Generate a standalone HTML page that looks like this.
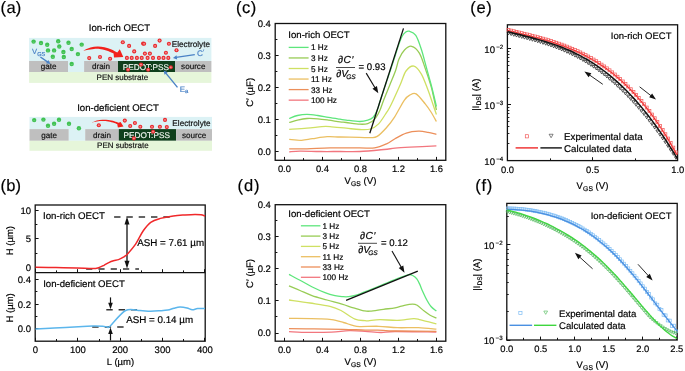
<!DOCTYPE html>
<html><head><meta charset="utf-8"><style>
html,body{margin:0;padding:0;background:#fff;overflow:hidden;}
svg{display:block;will-change:transform;}
text{font-family:"Liberation Sans", sans-serif;stroke:currentColor;stroke-width:0.18px;text-rendering:geometricPrecision;}
</style></head><body>
<svg width="685" height="371" viewBox="0 0 685 371">
<rect width="685" height="371" fill="#fff"/>
<text x="0.6" y="12.6" font-size="16.5" text-anchor="start" fill="#000" style="color:#000"  letter-spacing="0.3">(a)</text>
<text x="119.5" y="31.1" font-size="9.6" text-anchor="middle" fill="#000" style="color:#000"  >Ion-rich OECT</text>
<text x="118" y="110.8" font-size="9.6" text-anchor="middle" fill="#000" style="color:#000"  >Ion-deficient OECT</text>
<rect x="29.1" y="37.9" width="182.3" height="23.1" fill="#dcf2f5" />
<rect x="29.1" y="61" width="38.9" height="11" fill="#bfbfbf" />
<rect x="68" y="61" width="16.1" height="11" fill="#dcf2f5" />
<rect x="84.1" y="61" width="33.9" height="11" fill="#bfbfbf" />
<rect x="118" y="61" width="57.1" height="11" fill="#0f3f1c" />
<rect x="175.1" y="61" width="36.3" height="11" fill="#bfbfbf" />
<rect x="29.1" y="72" width="182.3" height="10.9" fill="#e6f6da" />
<text x="48.55" y="69.2" font-size="8.1" text-anchor="middle" fill="#111" style="color:#111"  >gate</text>
<text x="101.05" y="69.2" font-size="8.1" text-anchor="middle" fill="#111" style="color:#111"  >drain</text>
<text x="145.85" y="69.5" font-size="8.25" text-anchor="middle" fill="#eef4ee" style="color:#eef4ee"  >PEDOT:PSS</text>
<text x="193.25" y="69.2" font-size="8.1" text-anchor="middle" fill="#111" style="color:#111"  >source</text>
<text x="122.35" y="80.3" font-size="8.0" text-anchor="middle" fill="#111" style="color:#111"  >PEN substrate</text>
<text x="210" y="47" font-size="8.2" text-anchor="end" fill="#111" style="color:#111"  >Electrolyte</text>
<rect x="29.5" y="116.9" width="182.5" height="12.2" fill="#dcf2f5" />
<rect x="29.5" y="129.1" width="39.3" height="11.7" fill="#bfbfbf" />
<rect x="68.8" y="129.1" width="16.4" height="11.7" fill="#dcf2f5" />
<rect x="85.2" y="129.1" width="33.6" height="11.7" fill="#bfbfbf" />
<rect x="118.8" y="129.1" width="57.3" height="11.7" fill="#0f3f1c" />
<rect x="176.1" y="129.1" width="35.9" height="11.7" fill="#bfbfbf" />
<rect x="29.5" y="140.8" width="182.5" height="10" fill="#e6f6da" />
<text x="49.15" y="138" font-size="8.1" text-anchor="middle" fill="#111" style="color:#111"  >gate</text>
<text x="102" y="138" font-size="8.1" text-anchor="middle" fill="#111" style="color:#111"  >drain</text>
<text x="146.75" y="138.3" font-size="8.25" text-anchor="middle" fill="#eef4ee" style="color:#eef4ee"  >PEDOT:PSS</text>
<text x="194.05" y="138" font-size="8.1" text-anchor="middle" fill="#111" style="color:#111"  >source</text>
<text x="122.85" y="148.2" font-size="8.0" text-anchor="middle" fill="#111" style="color:#111"  >PEN substrate</text>
<text x="210.6" y="126" font-size="8.2" text-anchor="end" fill="#111" style="color:#111"  >Electrolyte</text>
<circle cx="33.6" cy="41.6" r="2.2" fill="#40c252"/>
<line x1="32.7" y1="42.2" x2="34.5" y2="42.2" stroke="#8ed898" stroke-width="0.5" />
<circle cx="41" cy="43" r="2.2" fill="#40c252"/>
<line x1="40.1" y1="43.6" x2="41.9" y2="43.6" stroke="#8ed898" stroke-width="0.5" />
<circle cx="47.2" cy="44.8" r="2.2" fill="#40c252"/>
<line x1="46.3" y1="45.4" x2="48.1" y2="45.4" stroke="#8ed898" stroke-width="0.5" />
<circle cx="58.2" cy="41.2" r="2.2" fill="#40c252"/>
<line x1="57.3" y1="41.8" x2="59.1" y2="41.8" stroke="#8ed898" stroke-width="0.5" />
<circle cx="59.3" cy="46.5" r="2.2" fill="#40c252"/>
<line x1="58.4" y1="47.1" x2="60.2" y2="47.1" stroke="#8ed898" stroke-width="0.5" />
<circle cx="68.5" cy="42.8" r="2.2" fill="#40c252"/>
<line x1="67.6" y1="43.4" x2="69.4" y2="43.4" stroke="#8ed898" stroke-width="0.5" />
<circle cx="81.7" cy="44.6" r="2.2" fill="#40c252"/>
<line x1="80.8" y1="45.2" x2="82.6" y2="45.2" stroke="#8ed898" stroke-width="0.5" />
<circle cx="48" cy="50.4" r="2.2" fill="#40c252"/>
<line x1="47.1" y1="51" x2="48.9" y2="51" stroke="#8ed898" stroke-width="0.5" />
<circle cx="54.1" cy="50.4" r="2.2" fill="#40c252"/>
<line x1="53.2" y1="51" x2="55" y2="51" stroke="#8ed898" stroke-width="0.5" />
<circle cx="63.4" cy="52" r="2.2" fill="#40c252"/>
<line x1="62.5" y1="52.6" x2="64.3" y2="52.6" stroke="#8ed898" stroke-width="0.5" />
<circle cx="71.7" cy="49" r="2.2" fill="#40c252"/>
<line x1="70.8" y1="49.6" x2="72.6" y2="49.6" stroke="#8ed898" stroke-width="0.5" />
<circle cx="77.9" cy="54.1" r="2.2" fill="#40c252"/>
<line x1="77" y1="54.7" x2="78.8" y2="54.7" stroke="#8ed898" stroke-width="0.5" />
<circle cx="52.8" cy="56.8" r="2.2" fill="#40c252"/>
<line x1="51.9" y1="57.4" x2="53.7" y2="57.4" stroke="#8ed898" stroke-width="0.5" />
<circle cx="63.8" cy="57" r="2.2" fill="#40c252"/>
<line x1="62.9" y1="57.6" x2="64.7" y2="57.6" stroke="#8ed898" stroke-width="0.5" />
<circle cx="71.7" cy="64" r="2.2" fill="#40c252"/>
<line x1="70.8" y1="64.6" x2="72.6" y2="64.6" stroke="#8ed898" stroke-width="0.5" />
<circle cx="89.2" cy="58.1" r="2.05" fill="#e8262a"/>
<line x1="88.15" y1="58.1" x2="90.25" y2="58.1" stroke="#ffc4c4" stroke-width="0.5" />
<line x1="89.2" y1="57.05" x2="89.2" y2="59.15" stroke="#ffc4c4" stroke-width="0.5" />
<circle cx="100" cy="57" r="2.05" fill="#e8262a"/>
<line x1="98.95" y1="57" x2="101.05" y2="57" stroke="#ffc4c4" stroke-width="0.5" />
<line x1="100" y1="55.95" x2="100" y2="58.05" stroke="#ffc4c4" stroke-width="0.5" />
<circle cx="110.1" cy="58.7" r="2.05" fill="#e8262a"/>
<line x1="109.05" y1="58.7" x2="111.15" y2="58.7" stroke="#ffc4c4" stroke-width="0.5" />
<line x1="110.1" y1="57.65" x2="110.1" y2="59.75" stroke="#ffc4c4" stroke-width="0.5" />
<circle cx="122.8" cy="42.3" r="2.05" fill="#e8262a"/>
<line x1="121.75" y1="42.3" x2="123.85" y2="42.3" stroke="#ffc4c4" stroke-width="0.5" />
<line x1="122.8" y1="41.25" x2="122.8" y2="43.35" stroke="#ffc4c4" stroke-width="0.5" />
<circle cx="129.1" cy="45.9" r="2.05" fill="#e8262a"/>
<line x1="128.05" y1="45.9" x2="130.15" y2="45.9" stroke="#ffc4c4" stroke-width="0.5" />
<line x1="129.1" y1="44.85" x2="129.1" y2="46.95" stroke="#ffc4c4" stroke-width="0.5" />
<circle cx="134.2" cy="51.4" r="2.05" fill="#e8262a"/>
<line x1="133.15" y1="51.4" x2="135.25" y2="51.4" stroke="#ffc4c4" stroke-width="0.5" />
<line x1="134.2" y1="50.35" x2="134.2" y2="52.45" stroke="#ffc4c4" stroke-width="0.5" />
<circle cx="126.9" cy="57.9" r="2.05" fill="#e8262a"/>
<line x1="125.85" y1="57.9" x2="127.95" y2="57.9" stroke="#ffc4c4" stroke-width="0.5" />
<line x1="126.9" y1="56.85" x2="126.9" y2="58.95" stroke="#ffc4c4" stroke-width="0.5" />
<circle cx="131.7" cy="57.9" r="2.05" fill="#e8262a"/>
<line x1="130.65" y1="57.9" x2="132.75" y2="57.9" stroke="#ffc4c4" stroke-width="0.5" />
<line x1="131.7" y1="56.85" x2="131.7" y2="58.95" stroke="#ffc4c4" stroke-width="0.5" />
<circle cx="136.9" cy="57.9" r="2.05" fill="#e8262a"/>
<line x1="135.85" y1="57.9" x2="137.95" y2="57.9" stroke="#ffc4c4" stroke-width="0.5" />
<line x1="136.9" y1="56.85" x2="136.9" y2="58.95" stroke="#ffc4c4" stroke-width="0.5" />
<circle cx="141.7" cy="57.9" r="2.05" fill="#e8262a"/>
<line x1="140.65" y1="57.9" x2="142.75" y2="57.9" stroke="#ffc4c4" stroke-width="0.5" />
<line x1="141.7" y1="56.85" x2="141.7" y2="58.95" stroke="#ffc4c4" stroke-width="0.5" />
<circle cx="143.1" cy="43.6" r="2.05" fill="#e8262a"/>
<line x1="142.05" y1="43.6" x2="144.15" y2="43.6" stroke="#ffc4c4" stroke-width="0.5" />
<line x1="143.1" y1="42.55" x2="143.1" y2="44.65" stroke="#ffc4c4" stroke-width="0.5" />
<circle cx="144.1" cy="43.8" r="2.05" fill="#e8262a"/>
<line x1="143.05" y1="43.8" x2="145.15" y2="43.8" stroke="#ffc4c4" stroke-width="0.5" />
<line x1="144.1" y1="42.75" x2="144.1" y2="44.85" stroke="#ffc4c4" stroke-width="0.5" />
<circle cx="155.1" cy="45.9" r="2.05" fill="#e8262a"/>
<line x1="154.05" y1="45.9" x2="156.15" y2="45.9" stroke="#ffc4c4" stroke-width="0.5" />
<line x1="155.1" y1="44.85" x2="155.1" y2="46.95" stroke="#ffc4c4" stroke-width="0.5" />
<circle cx="159.6" cy="40.6" r="2.05" fill="#e8262a"/>
<line x1="158.55" y1="40.6" x2="160.65" y2="40.6" stroke="#ffc4c4" stroke-width="0.5" />
<line x1="159.6" y1="39.55" x2="159.6" y2="41.65" stroke="#ffc4c4" stroke-width="0.5" />
<circle cx="168.9" cy="43.8" r="2.05" fill="#e8262a"/>
<line x1="167.85" y1="43.8" x2="169.95" y2="43.8" stroke="#ffc4c4" stroke-width="0.5" />
<line x1="168.9" y1="42.75" x2="168.9" y2="44.85" stroke="#ffc4c4" stroke-width="0.5" />
<circle cx="176.5" cy="50.2" r="2.05" fill="#e8262a"/>
<line x1="175.45" y1="50.2" x2="177.55" y2="50.2" stroke="#ffc4c4" stroke-width="0.5" />
<line x1="176.5" y1="49.15" x2="176.5" y2="51.25" stroke="#ffc4c4" stroke-width="0.5" />
<circle cx="144.9" cy="53.6" r="2.05" fill="#e8262a"/>
<line x1="143.85" y1="53.6" x2="145.95" y2="53.6" stroke="#ffc4c4" stroke-width="0.5" />
<line x1="144.9" y1="52.55" x2="144.9" y2="54.65" stroke="#ffc4c4" stroke-width="0.5" />
<circle cx="149.9" cy="53.6" r="2.05" fill="#e8262a"/>
<line x1="148.85" y1="53.6" x2="150.95" y2="53.6" stroke="#ffc4c4" stroke-width="0.5" />
<line x1="149.9" y1="52.55" x2="149.9" y2="54.65" stroke="#ffc4c4" stroke-width="0.5" />
<circle cx="165.9" cy="52.7" r="2.05" fill="#e8262a"/>
<line x1="164.85" y1="52.7" x2="166.95" y2="52.7" stroke="#ffc4c4" stroke-width="0.5" />
<line x1="165.9" y1="51.65" x2="165.9" y2="53.75" stroke="#ffc4c4" stroke-width="0.5" />
<circle cx="147.6" cy="57.9" r="2.05" fill="#e8262a"/>
<line x1="146.55" y1="57.9" x2="148.65" y2="57.9" stroke="#ffc4c4" stroke-width="0.5" />
<line x1="147.6" y1="56.85" x2="147.6" y2="58.95" stroke="#ffc4c4" stroke-width="0.5" />
<circle cx="153" cy="57.9" r="2.05" fill="#e8262a"/>
<line x1="151.95" y1="57.9" x2="154.05" y2="57.9" stroke="#ffc4c4" stroke-width="0.5" />
<line x1="153" y1="56.85" x2="153" y2="58.95" stroke="#ffc4c4" stroke-width="0.5" />
<circle cx="158.9" cy="57.9" r="2.05" fill="#e8262a"/>
<line x1="157.85" y1="57.9" x2="159.95" y2="57.9" stroke="#ffc4c4" stroke-width="0.5" />
<line x1="158.9" y1="56.85" x2="158.9" y2="58.95" stroke="#ffc4c4" stroke-width="0.5" />
<circle cx="163.5" cy="57.9" r="2.05" fill="#e8262a"/>
<line x1="162.45" y1="57.9" x2="164.55" y2="57.9" stroke="#ffc4c4" stroke-width="0.5" />
<line x1="163.5" y1="56.85" x2="163.5" y2="58.95" stroke="#ffc4c4" stroke-width="0.5" />
<circle cx="168.3" cy="57.9" r="2.05" fill="#e8262a"/>
<line x1="167.25" y1="57.9" x2="169.35" y2="57.9" stroke="#ffc4c4" stroke-width="0.5" />
<line x1="168.3" y1="56.85" x2="168.3" y2="58.95" stroke="#ffc4c4" stroke-width="0.5" />
<circle cx="141" cy="64.6" r="2.05" fill="#e8262a"/>
<line x1="139.95" y1="64.6" x2="142.05" y2="64.6" stroke="#ffc4c4" stroke-width="0.5" />
<line x1="141" y1="63.55" x2="141" y2="65.65" stroke="#ffc4c4" stroke-width="0.5" />
<circle cx="128" cy="69.7" r="2.05" fill="#e8262a"/>
<line x1="126.95" y1="69.7" x2="129.05" y2="69.7" stroke="#ffc4c4" stroke-width="0.5" />
<line x1="128" y1="68.65" x2="128" y2="70.75" stroke="#ffc4c4" stroke-width="0.5" />
<circle cx="148.1" cy="69.7" r="2.05" fill="#e8262a"/>
<line x1="147.05" y1="69.7" x2="149.15" y2="69.7" stroke="#ffc4c4" stroke-width="0.5" />
<line x1="148.1" y1="68.65" x2="148.1" y2="70.75" stroke="#ffc4c4" stroke-width="0.5" />
<circle cx="170.8" cy="67.3" r="2.05" fill="#e8262a"/>
<line x1="169.75" y1="67.3" x2="171.85" y2="67.3" stroke="#ffc4c4" stroke-width="0.5" />
<line x1="170.8" y1="66.25" x2="170.8" y2="68.35" stroke="#ffc4c4" stroke-width="0.5" />
<circle cx="34.2" cy="120.1" r="2.2" fill="#40c252"/>
<line x1="33.3" y1="120.7" x2="35.1" y2="120.7" stroke="#8ed898" stroke-width="0.5" />
<circle cx="43.4" cy="119.6" r="2.2" fill="#40c252"/>
<line x1="42.5" y1="120.2" x2="44.3" y2="120.2" stroke="#8ed898" stroke-width="0.5" />
<circle cx="48" cy="125.8" r="2.2" fill="#40c252"/>
<line x1="47.1" y1="126.4" x2="48.9" y2="126.4" stroke="#8ed898" stroke-width="0.5" />
<circle cx="54.1" cy="123.7" r="2.2" fill="#40c252"/>
<line x1="53.2" y1="124.3" x2="55" y2="124.3" stroke="#8ed898" stroke-width="0.5" />
<circle cx="59" cy="119.8" r="2.2" fill="#40c252"/>
<line x1="58.1" y1="120.4" x2="59.9" y2="120.4" stroke="#8ed898" stroke-width="0.5" />
<circle cx="69" cy="123.7" r="2.2" fill="#40c252"/>
<line x1="68.1" y1="124.3" x2="69.9" y2="124.3" stroke="#8ed898" stroke-width="0.5" />
<circle cx="78.9" cy="128.2" r="2.2" fill="#40c252"/>
<line x1="78" y1="128.8" x2="79.8" y2="128.8" stroke="#8ed898" stroke-width="0.5" />
<circle cx="98.8" cy="125.3" r="2.05" fill="#e8262a"/>
<line x1="97.75" y1="125.3" x2="99.85" y2="125.3" stroke="#ffc4c4" stroke-width="0.5" />
<line x1="98.8" y1="124.25" x2="98.8" y2="126.35" stroke="#ffc4c4" stroke-width="0.5" />
<circle cx="124.8" cy="120.6" r="2.05" fill="#e8262a"/>
<line x1="123.75" y1="120.6" x2="125.85" y2="120.6" stroke="#ffc4c4" stroke-width="0.5" />
<line x1="124.8" y1="119.55" x2="124.8" y2="121.65" stroke="#ffc4c4" stroke-width="0.5" />
<circle cx="130.2" cy="126" r="2.05" fill="#e8262a"/>
<line x1="129.15" y1="126" x2="131.25" y2="126" stroke="#ffc4c4" stroke-width="0.5" />
<line x1="130.2" y1="124.95" x2="130.2" y2="127.05" stroke="#ffc4c4" stroke-width="0.5" />
<circle cx="134.9" cy="123" r="2.05" fill="#e8262a"/>
<line x1="133.85" y1="123" x2="135.95" y2="123" stroke="#ffc4c4" stroke-width="0.5" />
<line x1="134.9" y1="121.95" x2="134.9" y2="124.05" stroke="#ffc4c4" stroke-width="0.5" />
<circle cx="140.3" cy="126.7" r="2.05" fill="#e8262a"/>
<line x1="139.25" y1="126.7" x2="141.35" y2="126.7" stroke="#ffc4c4" stroke-width="0.5" />
<line x1="140.3" y1="125.65" x2="140.3" y2="127.75" stroke="#ffc4c4" stroke-width="0.5" />
<circle cx="152" cy="126.8" r="2.05" fill="#e8262a"/>
<line x1="150.95" y1="126.8" x2="153.05" y2="126.8" stroke="#ffc4c4" stroke-width="0.5" />
<line x1="152" y1="125.75" x2="152" y2="127.85" stroke="#ffc4c4" stroke-width="0.5" />
<circle cx="159.9" cy="126.8" r="2.05" fill="#e8262a"/>
<line x1="158.85" y1="126.8" x2="160.95" y2="126.8" stroke="#ffc4c4" stroke-width="0.5" />
<line x1="159.9" y1="125.75" x2="159.9" y2="127.85" stroke="#ffc4c4" stroke-width="0.5" />
<circle cx="165" cy="119.9" r="2.05" fill="#e8262a"/>
<line x1="163.95" y1="119.9" x2="166.05" y2="119.9" stroke="#ffc4c4" stroke-width="0.5" />
<line x1="165" y1="118.85" x2="165" y2="120.95" stroke="#ffc4c4" stroke-width="0.5" />
<circle cx="166.8" cy="127.1" r="2.05" fill="#e8262a"/>
<line x1="165.75" y1="127.1" x2="167.85" y2="127.1" stroke="#ffc4c4" stroke-width="0.5" />
<line x1="166.8" y1="126.05" x2="166.8" y2="128.15" stroke="#ffc4c4" stroke-width="0.5" />
<circle cx="133.9" cy="138.4" r="2.05" fill="#e8262a"/>
<line x1="132.85" y1="138.4" x2="134.95" y2="138.4" stroke="#ffc4c4" stroke-width="0.5" />
<line x1="133.9" y1="137.35" x2="133.9" y2="139.45" stroke="#ffc4c4" stroke-width="0.5" />
<circle cx="153.1" cy="131.7" r="2.05" fill="#e8262a"/>
<line x1="152.05" y1="131.7" x2="154.15" y2="131.7" stroke="#ffc4c4" stroke-width="0.5" />
<line x1="153.1" y1="130.65" x2="153.1" y2="132.75" stroke="#ffc4c4" stroke-width="0.5" />
<path d="M83.3,50.6 C84.5,50.1 88.13,48.27 90.5,47.6 C92.87,46.93 95.17,46.65 97.5,46.6 C99.83,46.55 102.17,46.83 104.5,47.3 C106.83,47.77 109.37,48.55 111.5,49.4 C113.63,50.25 116.33,51.9 117.3,52.4 L119.8,49.3 L123.3,57 L114,57.4 L113.6,53.6 C112.67,53.17 110.1,51.73 108,51 C105.9,50.27 103.33,49.55 101,49.2 C98.67,48.85 96.33,48.78 94,48.9 C91.67,49.02 88.78,49.62 87,49.9 C85.22,50.18 83.92,50.48 83.3,50.6 Z" fill="#f2211c"/>
<path d="M91.6,122.6 C92.47,122.23 94.97,120.88 96.8,120.4 C98.63,119.92 100.67,119.77 102.6,119.7 C104.53,119.63 106.45,119.75 108.4,120 C110.35,120.25 112.6,120.75 114.3,121.2 C116,121.65 117.88,122.45 118.6,122.7 L120.6,121.9 L123.5,126.6 L117.9,127.6 L117.2,124.1 C116.72,123.9 115.77,123.33 114.3,122.9 C112.83,122.47 110.35,121.8 108.4,121.5 C106.45,121.2 104.53,121.1 102.6,121.1 C100.67,121.1 98.63,121.25 96.8,121.5 C94.97,121.75 92.47,122.42 91.6,122.6 Z" fill="#f2211c"/>
<text x="31.9" y="53.8" font-size="7.6" text-anchor="start" fill="#4a82c6" style="color:#4a82c6"  >V</text>
<text x="37.2" y="56" font-size="5.6" text-anchor="start" fill="#4a82c6" style="color:#4a82c6"  >GS</text>
<line x1="40.4" y1="57" x2="47.87" y2="62.18" stroke="#4a82c6" stroke-width="1.4" />
<polygon points="50.5,64 46.07,63.37 48.35,60.08" fill="#4a82c6"/>
<line x1="194.8" y1="54.6" x2="176.06" y2="57.42" stroke="#4a82c6" stroke-width="1.4" />
<polygon points="172.9,57.9 176.54,55.23 177.17,59.38" fill="#4a82c6"/>
<text x="196.9" y="56.3" font-size="8.2" text-anchor="start" fill="#4a82c6" style="color:#4a82c6"  >C</text>
<text x="202.9" y="54" font-size="6.5" text-anchor="start" fill="#4a82c6" style="color:#4a82c6"  >&#8242;</text>
<line x1="177.5" y1="87.4" x2="165.63" y2="72.88" stroke="#4a82c6" stroke-width="1.4" />
<polygon points="163.6,70.4 167.76,72.17 164.51,74.83" fill="#4a82c6"/>
<text x="179.7" y="91.8" font-size="8.0" text-anchor="start" fill="#4a82c6" style="color:#4a82c6"  >E</text>
<text x="184.9" y="93.4" font-size="6.0" text-anchor="start" fill="#4a82c6" style="color:#4a82c6"  >a</text>
<text x="0.5" y="190.8" font-size="16.5" text-anchor="start" fill="#000" style="color:#000"  letter-spacing="0.2">(b)</text>
<rect x="35.2" y="205.0" width="170.0" height="136.2" fill="none" stroke="#111" stroke-width="1.3"/>
<line x1="35.2" y1="272.6" x2="205.2" y2="272.6" stroke="#111" stroke-width="1.3" />
<line x1="35.2" y1="267.5" x2="38.6" y2="267.5" stroke="#111" stroke-width="1" />
<text x="31" y="270.6" font-size="9.5" text-anchor="end" fill="#000" style="color:#000"  >0</text>
<line x1="35.2" y1="238.5" x2="38.6" y2="238.5" stroke="#111" stroke-width="1" />
<text x="31" y="242.2" font-size="9.5" text-anchor="end" fill="#000" style="color:#000"  >5</text>
<line x1="35.2" y1="210.5" x2="38.6" y2="210.5" stroke="#111" stroke-width="1" />
<text x="31" y="213.8" font-size="9.5" text-anchor="end" fill="#000" style="color:#000"  >10</text>
<line x1="35.2" y1="253.5" x2="37.4" y2="253.5" stroke="#111" stroke-width="1" />
<line x1="35.2" y1="224.5" x2="37.4" y2="224.5" stroke="#111" stroke-width="1" />
<line x1="35.2" y1="328.5" x2="38.6" y2="328.5" stroke="#111" stroke-width="1" />
<text x="31" y="332" font-size="9.5" text-anchor="end" fill="#000" style="color:#000"  >0.0</text>
<line x1="35.2" y1="304.5" x2="38.6" y2="304.5" stroke="#111" stroke-width="1" />
<text x="31" y="307.5" font-size="9.5" text-anchor="end" fill="#000" style="color:#000"  >0.2</text>
<line x1="35.2" y1="279.5" x2="38.6" y2="279.5" stroke="#111" stroke-width="1" />
<text x="31" y="283" font-size="9.5" text-anchor="end" fill="#000" style="color:#000"  >0.4</text>
<line x1="35.2" y1="316.5" x2="37.4" y2="316.5" stroke="#111" stroke-width="1" />
<line x1="35.2" y1="291.5" x2="37.4" y2="291.5" stroke="#111" stroke-width="1" />
<line x1="35.5" y1="341.2" x2="35.5" y2="337.8" stroke="#111" stroke-width="1" />
<line x1="35.5" y1="272.6" x2="35.5" y2="269.2" stroke="#111" stroke-width="1" />
<text x="35.5" y="353.2" font-size="9.5" text-anchor="middle" fill="#000" style="color:#000"  >0</text>
<line x1="56.5" y1="341.2" x2="56.5" y2="339" stroke="#111" stroke-width="1" />
<line x1="56.5" y1="272.6" x2="56.5" y2="270.4" stroke="#111" stroke-width="1" />
<line x1="77.5" y1="341.2" x2="77.5" y2="337.8" stroke="#111" stroke-width="1" />
<line x1="77.5" y1="272.6" x2="77.5" y2="269.2" stroke="#111" stroke-width="1" />
<text x="77.85" y="353.2" font-size="9.5" text-anchor="middle" fill="#000" style="color:#000"  >100</text>
<line x1="99.5" y1="341.2" x2="99.5" y2="339" stroke="#111" stroke-width="1" />
<line x1="99.5" y1="272.6" x2="99.5" y2="270.4" stroke="#111" stroke-width="1" />
<line x1="120.5" y1="341.2" x2="120.5" y2="337.8" stroke="#111" stroke-width="1" />
<line x1="120.5" y1="272.6" x2="120.5" y2="269.2" stroke="#111" stroke-width="1" />
<text x="120.2" y="353.2" font-size="9.5" text-anchor="middle" fill="#000" style="color:#000"  >200</text>
<line x1="141.5" y1="341.2" x2="141.5" y2="339" stroke="#111" stroke-width="1" />
<line x1="141.5" y1="272.6" x2="141.5" y2="270.4" stroke="#111" stroke-width="1" />
<line x1="162.5" y1="341.2" x2="162.5" y2="337.8" stroke="#111" stroke-width="1" />
<line x1="162.5" y1="272.6" x2="162.5" y2="269.2" stroke="#111" stroke-width="1" />
<text x="162.55" y="353.2" font-size="9.5" text-anchor="middle" fill="#000" style="color:#000"  >300</text>
<line x1="183.5" y1="341.2" x2="183.5" y2="339" stroke="#111" stroke-width="1" />
<line x1="183.5" y1="272.6" x2="183.5" y2="270.4" stroke="#111" stroke-width="1" />
<line x1="204.5" y1="341.2" x2="204.5" y2="337.8" stroke="#111" stroke-width="1" />
<line x1="204.5" y1="272.6" x2="204.5" y2="269.2" stroke="#111" stroke-width="1" />
<text x="204.9" y="353.2" font-size="9.5" text-anchor="middle" fill="#000" style="color:#000"  >400</text>
<text x="120.5" y="364.6" font-size="9.5" text-anchor="middle" fill="#000" style="color:#000"  >L (&#181;m)</text>
<text transform="translate(13.0,240.6) rotate(-90)" font-size="9.5" text-anchor="middle" fill="#000">H (&#181;m)</text>
<text transform="translate(13.0,307.9) rotate(-90)" font-size="9.5" text-anchor="middle" fill="#000">H (&#181;m)</text>
<text x="43" y="218.7" font-size="9.7" text-anchor="start" fill="#000" style="color:#000"  >Ion-rich OECT</text>
<text x="43.2" y="287" font-size="9.6" text-anchor="start" fill="#000" style="color:#000"  >Ion-deficient OECT</text>
<line x1="114.1" y1="216.9" x2="170" y2="216.9" stroke="#333" stroke-width="1.5" stroke-dasharray="6.4,5.9"/>
<line x1="86.1" y1="268.9" x2="139" y2="268.9" stroke="#333" stroke-width="1.5" stroke-dasharray="6.2,6.1"/>
<line x1="127" y1="220" x2="127" y2="265.5" stroke="#111" stroke-width="1.3" />
<polygon points="127,216.8 129.5,224.6 124.5,224.6" fill="#111"/>
<polygon points="127,268.6 124.5,260.8 129.5,260.8" fill="#111"/>
<text x="137.2" y="246.4" font-size="9.8" text-anchor="start" fill="#000" style="color:#000"  >ASH = 7.61 &#181;m</text>
<path d="M35.5,267.3 C38.92,267.35 49.13,267.48 56,267.6 C62.87,267.72 70.57,267.83 76.7,268 C82.83,268.17 89.15,268.65 92.8,268.6 C96.45,268.55 96.73,268.25 98.6,267.7 C100.47,267.15 102.3,266.15 104,265.3 C105.7,264.45 107.22,263.35 108.8,262.6 C110.38,261.85 111.88,261.3 113.5,260.8 C115.12,260.3 116.85,260.2 118.5,259.6 C120.15,259 121.82,258.23 123.4,257.2 C124.98,256.17 125.97,255.57 128,253.4 C130.03,251.23 133.08,247.93 135.6,244.2 C138.12,240.47 140.58,234.65 143.1,231 C145.62,227.35 147.82,224.4 150.7,222.3 C153.58,220.2 156.63,219.47 160.4,218.4 C164.17,217.33 169.2,216.48 173.3,215.9 C177.4,215.32 181.4,215.15 185,214.9 C188.6,214.65 192.23,214.42 194.9,214.4 C197.57,214.38 199.32,214.53 201,214.8 C202.68,215.07 204.33,215.8 205,216" stroke="#f0282a" stroke-width="1.5" fill="none" />
<line x1="106.3" y1="309.8" x2="137" y2="309.8" stroke="#333" stroke-width="1.5" stroke-dasharray="6.4,5.9"/>
<line x1="92.2" y1="326.9" x2="124" y2="326.9" stroke="#333" stroke-width="1.5" stroke-dasharray="6.4,6.1"/>
<line x1="110.5" y1="297.4" x2="110.5" y2="304" stroke="#111" stroke-width="1.2" />
<polygon points="110.5,309.2 108.2,302.8 112.8,302.8" fill="#111"/>
<line x1="110.5" y1="340.5" x2="110.5" y2="333" stroke="#111" stroke-width="1.2" />
<polygon points="110.5,327.6 112.8,334 108.2,334" fill="#111"/>
<text x="126.2" y="322.8" font-size="9.8" text-anchor="start" fill="#000" style="color:#000"  >ASH = 0.14 &#181;m</text>
<path d="M35.5,329 C38.62,328.85 47.03,328.48 54.2,328.1 C61.37,327.72 72.03,327.03 78.5,326.7 C84.97,326.37 88.97,326.17 93,326.1 C97.03,326.03 100.37,326.18 102.7,326.3 C105.03,326.42 105.78,326.82 107,326.8 C108.22,326.78 106.9,328.92 110,326.2 C113.1,323.48 120.6,313.1 125.6,310.5 C130.6,307.9 135.88,310.48 140,310.6 C144.12,310.72 146.97,311.17 150.3,311.2 C153.63,311.23 157.08,310.98 160,310.8 C162.92,310.62 165.47,310.53 167.8,310.1 C170.13,309.67 171.97,308.7 174,308.2 C176.03,307.7 177.83,307.13 180,307.1 C182.17,307.07 184.95,307.55 187,308 C189.05,308.45 190.53,309.72 192.3,309.8 C194.07,309.88 195.48,308.73 197.6,308.5 C199.72,308.27 203.77,308.42 205,308.4" stroke="#5cb6ec" stroke-width="1.5" fill="none" />
<rect x="275.2" y="23.5" width="170.60000000000002" height="136.8" fill="none" stroke="#111" stroke-width="1.3"/>
<line x1="275.2" y1="151.5" x2="278.6" y2="151.5" stroke="#111" stroke-width="1" />
<line x1="275.2" y1="135.5" x2="277.4" y2="135.5" stroke="#111" stroke-width="1" />
<line x1="275.2" y1="119.5" x2="278.6" y2="119.5" stroke="#111" stroke-width="1" />
<line x1="275.2" y1="103.5" x2="277.4" y2="103.5" stroke="#111" stroke-width="1" />
<line x1="275.2" y1="87.5" x2="278.6" y2="87.5" stroke="#111" stroke-width="1" />
<line x1="275.2" y1="71.5" x2="277.4" y2="71.5" stroke="#111" stroke-width="1" />
<line x1="275.2" y1="55.5" x2="278.6" y2="55.5" stroke="#111" stroke-width="1" />
<line x1="275.2" y1="39.5" x2="277.4" y2="39.5" stroke="#111" stroke-width="1" />
<text x="270.9" y="155.2" font-size="9.5" text-anchor="end" fill="#000" style="color:#000"  >0.0</text>
<text x="270.9" y="123.1" font-size="9.5" text-anchor="end" fill="#000" style="color:#000"  >0.1</text>
<text x="270.9" y="91" font-size="9.5" text-anchor="end" fill="#000" style="color:#000"  >0.2</text>
<text x="270.9" y="58.9" font-size="9.5" text-anchor="end" fill="#000" style="color:#000"  >0.3</text>
<text x="270.9" y="26.8" font-size="9.5" text-anchor="end" fill="#000" style="color:#000"  >0.4</text>
<line x1="284.5" y1="160.3" x2="284.5" y2="156.9" stroke="#111" stroke-width="1" />
<text x="284.4" y="171.6" font-size="9.4" text-anchor="middle" fill="#000" style="color:#000"  >0.0</text>
<line x1="303.5" y1="160.3" x2="303.5" y2="158.1" stroke="#111" stroke-width="1" />
<line x1="322.5" y1="160.3" x2="322.5" y2="156.9" stroke="#111" stroke-width="1" />
<text x="322.4" y="171.6" font-size="9.4" text-anchor="middle" fill="#000" style="color:#000"  >0.4</text>
<line x1="341.5" y1="160.3" x2="341.5" y2="158.1" stroke="#111" stroke-width="1" />
<line x1="360.5" y1="160.3" x2="360.5" y2="156.9" stroke="#111" stroke-width="1" />
<text x="360.4" y="171.6" font-size="9.4" text-anchor="middle" fill="#000" style="color:#000"  >0.8</text>
<line x1="379.5" y1="160.3" x2="379.5" y2="158.1" stroke="#111" stroke-width="1" />
<line x1="398.5" y1="160.3" x2="398.5" y2="156.9" stroke="#111" stroke-width="1" />
<text x="398.4" y="171.6" font-size="9.4" text-anchor="middle" fill="#000" style="color:#000"  >1.2</text>
<line x1="417.5" y1="160.3" x2="417.5" y2="158.1" stroke="#111" stroke-width="1" />
<line x1="436.5" y1="160.3" x2="436.5" y2="156.9" stroke="#111" stroke-width="1" />
<text x="436.4" y="171.6" font-size="9.4" text-anchor="middle" fill="#000" style="color:#000"  >1.6</text>
<text x="235.9" y="12.7" font-size="16.5" text-anchor="start" fill="#000" style="color:#000"  letter-spacing="0.6">(c)</text>
<text transform="translate(253.3,92.4) rotate(-90)" font-size="9.5" text-anchor="middle" fill="#000">C&#8242; (&#181;F)</text>
<text x="344.5" y="183.6" font-size="9.4" text-anchor="start" fill="#000" style="color:#000"  >V</text>
<text x="351" y="185.9" font-size="6.8" text-anchor="start" fill="#000" style="color:#000"  >GS</text>
<text x="363.5" y="183.6" font-size="9.7" text-anchor="start" fill="#000" style="color:#000"  >(V)</text>
<text x="288.3" y="38.1" font-size="9.6" text-anchor="start" fill="#000" style="color:#000"  >Ion-rich OECT</text>
<line x1="288.7" y1="47.4" x2="308.6" y2="47.4" stroke="#5ee67c" stroke-width="1.3" />
<text x="311" y="50.4" font-size="8.2" text-anchor="start" fill="#000" style="color:#000"  >1 Hz</text>
<line x1="288.7" y1="57.95" x2="308.6" y2="57.95" stroke="#98cc55" stroke-width="1.3" />
<text x="311" y="60.95" font-size="8.2" text-anchor="start" fill="#000" style="color:#000"  >3 Hz</text>
<line x1="288.7" y1="68.5" x2="308.6" y2="68.5" stroke="#cfe063" stroke-width="1.3" />
<text x="311" y="71.5" font-size="8.2" text-anchor="start" fill="#000" style="color:#000"  >5 Hz</text>
<line x1="288.7" y1="79.05" x2="308.6" y2="79.05" stroke="#ebbf62" stroke-width="1.3" />
<text x="311" y="82.05" font-size="8.2" text-anchor="start" fill="#000" style="color:#000"  >11 Hz</text>
<line x1="288.7" y1="89.6" x2="308.6" y2="89.6" stroke="#ec8f5a" stroke-width="1.3" />
<text x="311" y="92.6" font-size="8.2" text-anchor="start" fill="#000" style="color:#000"  >33 Hz</text>
<line x1="288.7" y1="100.15" x2="308.6" y2="100.15" stroke="#f2767e" stroke-width="1.3" />
<text x="311" y="103.15" font-size="8.2" text-anchor="start" fill="#000" style="color:#000"  >100 Hz</text>
<path d="M289.2,151.9 C291,151.77 294.87,151.17 300,151.1 C305.13,151.03 313.33,151.43 320,151.5 C326.67,151.57 333.38,151.5 340,151.5 C346.62,151.5 352.37,151.83 359.7,151.5 C367.03,151.17 378.12,150.05 384,149.5 C389.88,148.95 390.67,148.58 395,148.2 C399.33,147.82 403.1,147.6 410,147.2 C416.9,146.8 432,146.03 436.4,145.8" stroke="#f2767e" stroke-width="1.3" fill="none" />
<path d="M289.2,148.8 C292.17,148.8 300.2,148.95 307,148.8 C313.8,148.65 321.22,148.05 330,147.9 C338.78,147.75 352.28,147.9 359.7,147.9 C367.12,147.9 370.02,148.58 374.5,147.9 C378.98,147.22 383.18,145.32 386.6,143.8 C390.02,142.28 391.72,140.58 395,138.8 C398.28,137.02 402.37,134.37 406.3,133.1 C410.23,131.83 414.98,131.33 418.6,131.2 C422.22,131.07 425.03,131.77 428,132.3 C430.97,132.83 435,134.05 436.4,134.4" stroke="#ec8f5a" stroke-width="1.3" fill="none" />
<path d="M289.2,139.4 C291.27,139.55 297.73,140.42 301.6,140.3 C305.47,140.18 308.13,139.3 312.4,138.7 C316.67,138.1 322.6,136.98 327.2,136.7 C331.8,136.42 334.58,136.88 340,137 C345.42,137.12 354.62,137.3 359.7,137.4 C364.78,137.5 367.58,137.77 370.5,137.6 C373.42,137.43 374.52,138.08 377.2,136.4 C379.88,134.72 383.68,130.77 386.6,127.5 C389.52,124.23 391.73,121.37 394.7,116.8 C397.67,112.23 401.85,103.73 404.4,100.1 C406.95,96.47 408.05,96.03 410,95 C411.95,93.97 413.57,92.42 416.1,93.9 C418.63,95.38 422.72,100.88 425.2,103.9 C427.68,106.92 429.13,109.07 431,112 C432.87,114.93 435.5,119.92 436.4,121.5" stroke="#ebbf62" stroke-width="1.3" fill="none" />
<path d="M289.2,129.3 C292.17,129.12 301.57,128.65 307,128.2 C312.43,127.75 317.97,126.87 321.8,126.6 C325.63,126.33 325.93,126.33 330,126.6 C334.07,126.87 341.25,127.72 346.2,128.2 C351.15,128.68 355.65,129.37 359.7,129.5 C363.75,129.63 367.35,129.93 370.5,129 C373.65,128.07 375.92,126.67 378.6,123.9 C381.28,121.13 384.57,115.5 386.6,112.4 C388.63,109.3 388.52,109.95 390.8,105.3 C393.08,100.65 397.77,90.22 400.3,84.5 C402.83,78.78 403.73,74.07 406,71 C408.27,67.93 411.33,65.58 413.9,66.1 C416.47,66.62 419.05,70.1 421.4,74.1 C423.75,78.1 426.15,85.28 428,90.1 C429.85,94.92 431.1,98.93 432.5,103 C433.9,107.07 435.75,112.58 436.4,114.5" stroke="#cfe063" stroke-width="1.3" fill="none" />
<path d="M289.2,122.5 C290.58,122.1 294.53,120.77 297.5,120.1 C300.47,119.43 303.62,118.72 307,118.5 C310.38,118.28 314.22,118.53 317.8,118.8 C321.38,119.07 324.8,119.58 328.5,120.1 C332.2,120.62 337.05,121.5 340,121.9 C342.95,122.3 342.92,122.12 346.2,122.5 C349.48,122.88 356.1,124.02 359.7,124.2 C363.3,124.38 365.33,124.4 367.8,123.6 C370.27,122.8 372.53,121.5 374.5,119.4 C376.47,117.3 378.07,114.23 379.6,111 C381.13,107.77 382,104.33 383.7,100 C385.4,95.67 387.82,89.92 389.8,85 C391.78,80.08 394.07,74.83 395.6,70.5 C397.13,66.17 397.52,62.42 399,59 C400.48,55.58 402.4,52.12 404.5,50 C406.6,47.88 409.1,45.75 411.6,46.3 C414.1,46.85 417.23,49.62 419.5,53.3 C421.77,56.98 423.32,63.05 425.2,68.4 C427.08,73.75 429.55,81.32 430.8,85.4 C432.05,89.48 431.77,88.8 432.7,92.9 C433.63,97 435.78,107.15 436.4,110" stroke="#98cc55" stroke-width="1.3" fill="none" />
<path d="M289.2,118.5 C290.58,118 294.53,116.18 297.5,115.5 C300.47,114.82 303.62,114.4 307,114.4 C310.38,114.4 314.22,115 317.8,115.5 C321.38,116 324.8,116.78 328.5,117.4 C332.2,118.02 337.05,118.75 340,119.2 C342.95,119.65 342.92,119.72 346.2,120.1 C349.48,120.48 356.1,121.48 359.7,121.5 C363.3,121.52 365.55,120.92 367.8,120.2 C370.05,119.48 371.62,118.9 373.2,117.2 C374.78,115.5 376.1,112.87 377.3,110 C378.5,107.13 379.05,104.17 380.4,100 C381.75,95.83 383.72,90 385.4,85 C387.08,80 388.97,74.58 390.5,70 C392.03,65.42 393.25,61.67 394.6,57.5 C395.95,53.33 397.32,48.58 398.6,45 C399.88,41.42 401.15,38.13 402.3,36 C403.45,33.87 404.35,33 405.5,32.2 C406.65,31.4 407.48,30.67 409.2,31.2 C410.92,31.73 413.77,32.35 415.8,35.4 C417.83,38.45 419.68,44.32 421.4,49.5 C423.12,54.68 424.53,60.83 426.1,66.5 C427.67,72.17 429.53,78.75 430.8,83.5 C432.07,88.25 432.77,91.17 433.7,95 C434.63,98.83 435.95,104.58 436.4,106.5" stroke="#5ee67c" stroke-width="1.3" fill="none" />
<line x1="369.8" y1="133.3" x2="403.5" y2="28.4" stroke="#111" stroke-width="1.3" />
<line x1="366.2" y1="73.1" x2="375.42" y2="88.5" stroke="#111" stroke-width="1.1" />
<polygon points="378.3,93.3 372.47,88.63 376.93,85.96" fill="#111"/>
<rect x="275.2" y="204.7" width="170.60000000000002" height="136.5" fill="none" stroke="#111" stroke-width="1.3"/>
<line x1="275.2" y1="333.5" x2="278.6" y2="333.5" stroke="#111" stroke-width="1" />
<line x1="275.2" y1="316.5" x2="277.4" y2="316.5" stroke="#111" stroke-width="1" />
<line x1="275.2" y1="300.5" x2="278.6" y2="300.5" stroke="#111" stroke-width="1" />
<line x1="275.2" y1="284.5" x2="277.4" y2="284.5" stroke="#111" stroke-width="1" />
<line x1="275.2" y1="268.5" x2="278.6" y2="268.5" stroke="#111" stroke-width="1" />
<line x1="275.2" y1="252.5" x2="277.4" y2="252.5" stroke="#111" stroke-width="1" />
<line x1="275.2" y1="236.5" x2="278.6" y2="236.5" stroke="#111" stroke-width="1" />
<line x1="275.2" y1="220.5" x2="277.4" y2="220.5" stroke="#111" stroke-width="1" />
<text x="270.9" y="336.3" font-size="9.5" text-anchor="end" fill="#000" style="color:#000"  >0.0</text>
<text x="270.9" y="304.2" font-size="9.5" text-anchor="end" fill="#000" style="color:#000"  >0.1</text>
<text x="270.9" y="272.1" font-size="9.5" text-anchor="end" fill="#000" style="color:#000"  >0.2</text>
<text x="270.9" y="240" font-size="9.5" text-anchor="end" fill="#000" style="color:#000"  >0.3</text>
<text x="270.9" y="207.9" font-size="9.5" text-anchor="end" fill="#000" style="color:#000"  >0.4</text>
<line x1="284.5" y1="341.2" x2="284.5" y2="337.8" stroke="#111" stroke-width="1" />
<text x="284.4" y="352.5" font-size="9.4" text-anchor="middle" fill="#000" style="color:#000"  >0.0</text>
<line x1="303.5" y1="341.2" x2="303.5" y2="339" stroke="#111" stroke-width="1" />
<line x1="322.5" y1="341.2" x2="322.5" y2="337.8" stroke="#111" stroke-width="1" />
<text x="322.4" y="352.5" font-size="9.4" text-anchor="middle" fill="#000" style="color:#000"  >0.4</text>
<line x1="341.5" y1="341.2" x2="341.5" y2="339" stroke="#111" stroke-width="1" />
<line x1="360.5" y1="341.2" x2="360.5" y2="337.8" stroke="#111" stroke-width="1" />
<text x="360.4" y="352.5" font-size="9.4" text-anchor="middle" fill="#000" style="color:#000"  >0.8</text>
<line x1="379.5" y1="341.2" x2="379.5" y2="339" stroke="#111" stroke-width="1" />
<line x1="398.5" y1="341.2" x2="398.5" y2="337.8" stroke="#111" stroke-width="1" />
<text x="398.4" y="352.5" font-size="9.4" text-anchor="middle" fill="#000" style="color:#000"  >1.2</text>
<line x1="417.5" y1="341.2" x2="417.5" y2="339" stroke="#111" stroke-width="1" />
<line x1="436.5" y1="341.2" x2="436.5" y2="337.8" stroke="#111" stroke-width="1" />
<text x="436.4" y="352.5" font-size="9.4" text-anchor="middle" fill="#000" style="color:#000"  >1.6</text>
<text x="237.4" y="190.9" font-size="16.5" text-anchor="start" fill="#000" style="color:#000"  letter-spacing="1.0">(d)</text>
<text transform="translate(253.3,273.45) rotate(-90)" font-size="9.5" text-anchor="middle" fill="#000">C&#8242; (&#181;F)</text>
<text x="344.5" y="364.5" font-size="9.4" text-anchor="start" fill="#000" style="color:#000"  >V</text>
<text x="351" y="366.8" font-size="6.8" text-anchor="start" fill="#000" style="color:#000"  >GS</text>
<text x="363.5" y="364.5" font-size="9.7" text-anchor="start" fill="#000" style="color:#000"  >(V)</text>
<text x="288.3" y="217.3" font-size="9.6" text-anchor="start" fill="#000" style="color:#000"  >Ion-deficient OECT</text>
<line x1="300.9" y1="225.8" x2="320.4" y2="225.8" stroke="#5ee67c" stroke-width="1.3" />
<text x="322.5" y="228.8" font-size="8.2" text-anchor="start" fill="#000" style="color:#000"  >1 Hz</text>
<line x1="300.9" y1="236.1" x2="320.4" y2="236.1" stroke="#98cc55" stroke-width="1.3" />
<text x="322.5" y="239.1" font-size="8.2" text-anchor="start" fill="#000" style="color:#000"  >3 Hz</text>
<line x1="300.9" y1="246.4" x2="320.4" y2="246.4" stroke="#cfe063" stroke-width="1.3" />
<text x="322.5" y="249.4" font-size="8.2" text-anchor="start" fill="#000" style="color:#000"  >5 Hz</text>
<line x1="300.9" y1="256.7" x2="320.4" y2="256.7" stroke="#ebbf62" stroke-width="1.3" />
<text x="322.5" y="259.7" font-size="8.2" text-anchor="start" fill="#000" style="color:#000"  >11 Hz</text>
<line x1="300.9" y1="267" x2="320.4" y2="267" stroke="#ec8f5a" stroke-width="1.3" />
<text x="322.5" y="270" font-size="8.2" text-anchor="start" fill="#000" style="color:#000"  >33 Hz</text>
<line x1="300.9" y1="277.3" x2="320.4" y2="277.3" stroke="#f2767e" stroke-width="1.3" />
<text x="322.5" y="280.3" font-size="8.2" text-anchor="start" fill="#000" style="color:#000"  >100 Hz</text>
<path d="M289,331.6 C292.23,331.73 301.28,332.32 308.4,332.4 C315.52,332.48 324.9,332.38 331.7,332.1 C338.5,331.82 343.65,330.83 349.2,330.7 C354.75,330.57 359.7,331 365,331.3 C370.3,331.6 376,332.47 381,332.5 C386,332.53 385.77,331.57 395,331.5 C404.23,331.43 429.5,332 436.4,332.1" stroke="#f2767e" stroke-width="1.3" fill="none" />
<path d="M289,328.6 C293.2,328.65 305.13,328.78 314.2,328.9 C323.27,329.02 334.93,329.1 343.4,329.3 C351.87,329.5 359.32,329.97 365,330.1 C370.68,330.23 372.5,329.95 377.5,330.1 C382.5,330.25 385.18,330.8 395,331 C404.82,331.2 429.5,331.25 436.4,331.3" stroke="#ec8f5a" stroke-width="1.3" fill="none" />
<path d="M289,318.4 C294.17,318.47 312.88,318.6 320,318.8 C327.12,319 327.8,318.98 331.7,319.6 C335.6,320.22 339.9,321.53 343.4,322.5 C346.9,323.47 349.98,324.72 352.7,325.4 C355.42,326.08 355.37,326.45 359.7,326.6 C364.03,326.75 372.42,326.12 378.7,326.3 C384.98,326.48 390.78,327.47 397.4,327.7 C404.02,327.93 411.9,327.45 418.4,327.7 C424.9,327.95 433.4,328.95 436.4,329.2" stroke="#ebbf62" stroke-width="1.3" fill="none" />
<path d="M289,300 C292.5,300.5 303.17,301.95 310,303 C316.83,304.05 324.83,305.05 330,306.3 C335.17,307.55 336.83,308.35 341,310.5 C345.17,312.65 351,317.52 355,319.2 C359,320.88 362.8,320.33 365,320.6 C367.2,320.87 365.72,320.97 368.2,320.8 C370.68,320.63 375.03,319.67 379.9,319.6 C384.77,319.53 391.77,320.55 397.4,320.4 C403.03,320.25 409.82,318.78 413.7,318.7 C417.58,318.62 416.92,319.03 420.7,319.9 C424.48,320.77 433.78,323.23 436.4,323.9" stroke="#cfe063" stroke-width="1.3" fill="none" />
<path d="M289,285.9 C290.83,286.67 296.17,288.88 300,290.5 C303.83,292.12 307.5,294.02 312,295.6 C316.5,297.18 322,298.57 327,300 C332,301.43 337.58,302.9 342,304.2 C346.42,305.5 349.83,306.7 353.5,307.8 C357.17,308.9 361.25,310.23 364,310.8 C366.75,311.37 366.77,311.45 370,311.2 C373.23,310.95 379.23,309.85 383.4,309.3 C387.57,308.75 391.5,308.57 395,307.9 C398.5,307.23 401.47,305.93 404.4,305.3 C407.33,304.67 410.47,304.1 412.6,304.1 C414.73,304.1 415.27,304.13 417.2,305.3 C419.13,306.47 422.05,309.45 424.2,311.1 C426.35,312.75 428.07,314.03 430.1,315.2 C432.13,316.37 435.35,317.62 436.4,318.1" stroke="#98cc55" stroke-width="1.3" fill="none" />
<path d="M289,274.4 C290.83,275.37 296.12,278.1 300,280.2 C303.88,282.3 308.13,284.93 312.3,287 C316.47,289.07 321.22,291.17 325,292.6 C328.78,294.03 332.08,294.93 335,295.6 C337.92,296.27 340.32,296.42 342.5,296.6 C344.68,296.78 345.82,296.93 348.1,296.7 C350.38,296.47 352.55,296.35 356.2,295.2 C359.85,294.05 365.2,291.72 370,289.8 C374.8,287.88 380,285.72 385,283.7 C390,281.68 396.05,279.22 400,277.7 C403.95,276.18 406.58,274.97 408.7,274.6 C410.82,274.23 411.35,274.8 412.7,275.5 C414.05,276.2 415.58,277.23 416.8,278.8 C418.02,280.37 419.17,283.13 420,284.9 C420.83,286.67 420.62,286.8 421.8,289.4 C422.98,292 425.57,297.65 427.1,300.5 C428.63,303.35 429.45,304.73 431,306.5 C432.55,308.27 435.5,310.33 436.4,311.1" stroke="#5ee67c" stroke-width="1.3" fill="none" />
<line x1="346.1" y1="300.4" x2="417.8" y2="271.2" stroke="#111" stroke-width="1.3" />
<line x1="392" y1="251" x2="401.71" y2="267.94" stroke="#111" stroke-width="1.1" />
<polygon points="404.5,272.8 398.76,268.02 403.27,265.43" fill="#111"/>
<text x="338" y="63.4" font-size="10.2" font-style="italic" font-family="Liberation Serif, serif" fill="#000" letter-spacing="0.5">&#8706;C&#8242;</text>
<line x1="336" y1="67.5" x2="355" y2="67.5" stroke="#111" stroke-width="0.75" />
<text x="336.3" y="77.2" font-size="10.2" font-style="italic" font-family="Liberation Serif, serif" fill="#000">&#8706;V</text>
<text x="346.2" y="78.9" font-size="6.6" font-style="italic" font-family="Liberation Serif, serif" fill="#000">GS</text>
<text x="358.6" y="69.8" font-size="9.6" text-anchor="start" fill="#000" style="color:#000"  >= 0.93</text>
<text x="360" y="239.2" font-size="10.2" font-style="italic" font-family="Liberation Serif, serif" fill="#000" letter-spacing="0.5">&#8706;C&#8242;</text>
<line x1="358" y1="243.3" x2="377" y2="243.3" stroke="#111" stroke-width="0.75" />
<text x="358.3" y="253" font-size="10.2" font-style="italic" font-family="Liberation Serif, serif" fill="#000">&#8706;V</text>
<text x="368.2" y="254.7" font-size="6.6" font-style="italic" font-family="Liberation Serif, serif" fill="#000">GS</text>
<text x="381" y="245.6" font-size="9.6" text-anchor="start" fill="#000" style="color:#000"  >= 0.12</text>
<rect x="507.4" y="24.8" width="170.20000000000005" height="135.79999999999998" fill="none" stroke="#111" stroke-width="1.3"/>
<line x1="507.4" y1="160.5" x2="511" y2="160.5" stroke="#111" stroke-width="1" />
<text x="484.3" y="164.6" font-size="9.6" text-anchor="start" fill="#000" style="color:#000"  >10</text>
<text x="496.2" y="160.5" font-size="6.2" text-anchor="start" fill="#000" style="color:#000"  >&#8722;4</text>
<line x1="507.4" y1="143.5" x2="509.4" y2="143.5" stroke="#111" stroke-width="0.9" />
<line x1="507.4" y1="133.5" x2="509.4" y2="133.5" stroke="#111" stroke-width="0.9" />
<line x1="507.4" y1="126.5" x2="509.4" y2="126.5" stroke="#111" stroke-width="0.9" />
<line x1="507.4" y1="121.5" x2="509.4" y2="121.5" stroke="#111" stroke-width="0.9" />
<line x1="507.4" y1="117.5" x2="509.4" y2="117.5" stroke="#111" stroke-width="0.9" />
<line x1="507.4" y1="113.5" x2="509.4" y2="113.5" stroke="#111" stroke-width="0.9" />
<line x1="507.4" y1="110.5" x2="509.4" y2="110.5" stroke="#111" stroke-width="0.9" />
<line x1="507.4" y1="107.5" x2="509.4" y2="107.5" stroke="#111" stroke-width="0.9" />
<line x1="507.4" y1="104.5" x2="511" y2="104.5" stroke="#111" stroke-width="1" />
<text x="484.3" y="108.7" font-size="9.6" text-anchor="start" fill="#000" style="color:#000"  >10</text>
<text x="496.2" y="104.6" font-size="6.2" text-anchor="start" fill="#000" style="color:#000"  >&#8722;3</text>
<line x1="507.4" y1="87.5" x2="509.4" y2="87.5" stroke="#111" stroke-width="0.9" />
<line x1="507.4" y1="78.5" x2="509.4" y2="78.5" stroke="#111" stroke-width="0.9" />
<line x1="507.4" y1="71.5" x2="509.4" y2="71.5" stroke="#111" stroke-width="0.9" />
<line x1="507.4" y1="65.5" x2="509.4" y2="65.5" stroke="#111" stroke-width="0.9" />
<line x1="507.4" y1="61.5" x2="509.4" y2="61.5" stroke="#111" stroke-width="0.9" />
<line x1="507.4" y1="57.5" x2="509.4" y2="57.5" stroke="#111" stroke-width="0.9" />
<line x1="507.4" y1="54.5" x2="509.4" y2="54.5" stroke="#111" stroke-width="0.9" />
<line x1="507.4" y1="51.5" x2="509.4" y2="51.5" stroke="#111" stroke-width="0.9" />
<line x1="507.4" y1="48.5" x2="511" y2="48.5" stroke="#111" stroke-width="1" />
<text x="484.3" y="52.8" font-size="9.6" text-anchor="start" fill="#000" style="color:#000"  >10</text>
<text x="496.2" y="48.7" font-size="6.2" text-anchor="start" fill="#000" style="color:#000"  >&#8722;2</text>
<line x1="507.4" y1="31.5" x2="509.4" y2="31.5" stroke="#111" stroke-width="0.9" />
<line x1="507.5" y1="160.6" x2="507.5" y2="157.2" stroke="#111" stroke-width="1" />
<text x="507.5" y="172.8" font-size="9.4" text-anchor="middle" fill="#000" style="color:#000"  >0.0</text>
<line x1="550.5" y1="160.6" x2="550.5" y2="158.4" stroke="#111" stroke-width="1" />
<line x1="592.5" y1="160.6" x2="592.5" y2="157.2" stroke="#111" stroke-width="1" />
<text x="592.6" y="172.8" font-size="9.4" text-anchor="middle" fill="#000" style="color:#000"  >0.5</text>
<line x1="635.5" y1="160.6" x2="635.5" y2="158.4" stroke="#111" stroke-width="1" />
<line x1="677.5" y1="160.6" x2="677.5" y2="157.2" stroke="#111" stroke-width="1" />
<text x="677.7" y="172.8" font-size="9.4" text-anchor="middle" fill="#000" style="color:#000"  >1.0</text>
<text x="470.2" y="12.9" font-size="16.5" text-anchor="start" fill="#000" style="color:#000"  letter-spacing="0.7">(e)</text>
<text x="671.5" y="39.4" font-size="9.5" text-anchor="end" fill="#000" style="color:#000"  >Ion-rich OECT</text>
<rect x="506.8" y="203.4" width="170.40000000000003" height="136.6" fill="none" stroke="#111" stroke-width="1.3"/>
<line x1="506.8" y1="340.5" x2="510.4" y2="340.5" stroke="#111" stroke-width="1" />
<text x="483.7" y="344" font-size="9.6" text-anchor="start" fill="#000" style="color:#000"  >10</text>
<text x="495.6" y="339.9" font-size="6.2" text-anchor="start" fill="#000" style="color:#000"  >&#8722;3</text>
<line x1="506.8" y1="311.5" x2="508.8" y2="311.5" stroke="#111" stroke-width="0.9" />
<line x1="506.8" y1="294.5" x2="508.8" y2="294.5" stroke="#111" stroke-width="0.9" />
<line x1="506.8" y1="282.5" x2="508.8" y2="282.5" stroke="#111" stroke-width="0.9" />
<line x1="506.8" y1="273.5" x2="508.8" y2="273.5" stroke="#111" stroke-width="0.9" />
<line x1="506.8" y1="265.5" x2="508.8" y2="265.5" stroke="#111" stroke-width="0.9" />
<line x1="506.8" y1="259.5" x2="508.8" y2="259.5" stroke="#111" stroke-width="0.9" />
<line x1="506.8" y1="253.5" x2="508.8" y2="253.5" stroke="#111" stroke-width="0.9" />
<line x1="506.8" y1="249.5" x2="508.8" y2="249.5" stroke="#111" stroke-width="0.9" />
<line x1="506.8" y1="244.5" x2="510.4" y2="244.5" stroke="#111" stroke-width="1" />
<text x="483.7" y="248.7" font-size="9.6" text-anchor="start" fill="#000" style="color:#000"  >10</text>
<text x="495.6" y="244.6" font-size="6.2" text-anchor="start" fill="#000" style="color:#000"  >&#8722;2</text>
<line x1="506.8" y1="216.5" x2="508.8" y2="216.5" stroke="#111" stroke-width="0.9" />
<line x1="506.5" y1="340" x2="506.5" y2="336.6" stroke="#111" stroke-width="1" />
<text x="506.8" y="352.2" font-size="9.4" text-anchor="middle" fill="#000" style="color:#000"  >0.0</text>
<line x1="523.5" y1="340" x2="523.5" y2="337.8" stroke="#111" stroke-width="1" />
<line x1="540.5" y1="340" x2="540.5" y2="336.6" stroke="#111" stroke-width="1" />
<text x="540.8" y="352.2" font-size="9.4" text-anchor="middle" fill="#000" style="color:#000"  >0.5</text>
<line x1="557.5" y1="340" x2="557.5" y2="337.8" stroke="#111" stroke-width="1" />
<line x1="574.5" y1="340" x2="574.5" y2="336.6" stroke="#111" stroke-width="1" />
<text x="574.8" y="352.2" font-size="9.4" text-anchor="middle" fill="#000" style="color:#000"  >1.0</text>
<line x1="591.5" y1="340" x2="591.5" y2="337.8" stroke="#111" stroke-width="1" />
<line x1="608.5" y1="340" x2="608.5" y2="336.6" stroke="#111" stroke-width="1" />
<text x="608.8" y="352.2" font-size="9.4" text-anchor="middle" fill="#000" style="color:#000"  >1.5</text>
<line x1="625.5" y1="340" x2="625.5" y2="337.8" stroke="#111" stroke-width="1" />
<line x1="642.5" y1="340" x2="642.5" y2="336.6" stroke="#111" stroke-width="1" />
<text x="642.8" y="352.2" font-size="9.4" text-anchor="middle" fill="#000" style="color:#000"  >2.0</text>
<line x1="659.5" y1="340" x2="659.5" y2="337.8" stroke="#111" stroke-width="1" />
<line x1="676.5" y1="340" x2="676.5" y2="336.6" stroke="#111" stroke-width="1" />
<text x="676.8" y="352.2" font-size="9.4" text-anchor="middle" fill="#000" style="color:#000"  >2.5</text>
<text x="475.2" y="190.8" font-size="16.5" text-anchor="start" fill="#000" style="color:#000"  letter-spacing="0.7">(f)</text>
<text x="671.5" y="218.8" font-size="9.5" text-anchor="end" fill="#000" style="color:#000"  >Ion-deficient OECT</text>
<text transform="translate(478.8,94.7) rotate(-90)" font-size="9.5" text-anchor="middle" fill="#000">|I<tspan font-size="6.6" dy="1.8">DS</tspan><tspan dy="-1.8">| (A)</tspan></text>
<text transform="translate(480.3,274.7) rotate(-90)" font-size="9.5" text-anchor="middle" fill="#000">|I<tspan font-size="6.6" dy="1.8">DS</tspan><tspan dy="-1.8">| (A)</tspan></text>
<text x="576.6" y="188.8" font-size="9.3" text-anchor="start" fill="#000" style="color:#000"  >V</text>
<text x="583.1" y="191.1" font-size="6.8" text-anchor="start" fill="#000" style="color:#000"  >GS</text>
<text x="595.6" y="188.8" font-size="9.7" text-anchor="start" fill="#000" style="color:#000"  >(V)</text>
<text x="576.6" y="367.8" font-size="9.3" text-anchor="start" fill="#000" style="color:#000"  >V</text>
<text x="583.1" y="370.1" font-size="6.8" text-anchor="start" fill="#000" style="color:#000"  >GS</text>
<text x="595.6" y="367.8" font-size="9.7" text-anchor="start" fill="#000" style="color:#000"  >(V)</text>
<polygon points="507,32.28 510,32.28 508.5,34.89" fill="none" stroke="#1a1a1a" stroke-width="0.7"/>
<polygon points="509.66,33.01 512.66,33.01 511.16,35.62" fill="none" stroke="#1a1a1a" stroke-width="0.7"/>
<polygon points="512.32,33.72 515.32,33.72 513.82,36.33" fill="none" stroke="#1a1a1a" stroke-width="0.7"/>
<polygon points="514.98,34.43 517.98,34.43 516.48,37.04" fill="none" stroke="#1a1a1a" stroke-width="0.7"/>
<polygon points="517.63,35.12 520.63,35.12 519.13,37.73" fill="none" stroke="#1a1a1a" stroke-width="0.7"/>
<polygon points="520.29,35.82 523.29,35.82 521.79,38.43" fill="none" stroke="#1a1a1a" stroke-width="0.7"/>
<polygon points="522.95,36.52 525.95,36.52 524.45,39.13" fill="none" stroke="#1a1a1a" stroke-width="0.7"/>
<polygon points="525.61,37.22 528.61,37.22 527.11,39.83" fill="none" stroke="#1a1a1a" stroke-width="0.7"/>
<polygon points="528.27,37.94 531.27,37.94 529.77,40.55" fill="none" stroke="#1a1a1a" stroke-width="0.7"/>
<polygon points="530.93,38.66 533.93,38.66 532.43,41.27" fill="none" stroke="#1a1a1a" stroke-width="0.7"/>
<polygon points="533.59,39.41 536.59,39.41 535.09,42.02" fill="none" stroke="#1a1a1a" stroke-width="0.7"/>
<polygon points="536.25,40.17 539.25,40.17 537.75,42.78" fill="none" stroke="#1a1a1a" stroke-width="0.7"/>
<polygon points="538.9,40.95 541.9,40.95 540.4,43.56" fill="none" stroke="#1a1a1a" stroke-width="0.7"/>
<polygon points="541.56,41.77 544.56,41.77 543.06,44.38" fill="none" stroke="#1a1a1a" stroke-width="0.7"/>
<polygon points="544.22,42.61 547.22,42.61 545.72,45.22" fill="none" stroke="#1a1a1a" stroke-width="0.7"/>
<polygon points="546.88,43.48 549.88,43.48 548.38,46.09" fill="none" stroke="#1a1a1a" stroke-width="0.7"/>
<polygon points="549.54,44.38 552.54,44.38 551.04,46.99" fill="none" stroke="#1a1a1a" stroke-width="0.7"/>
<polygon points="552.2,45.33 555.2,45.33 553.7,47.94" fill="none" stroke="#1a1a1a" stroke-width="0.7"/>
<polygon points="554.86,46.31 557.86,46.31 556.36,48.92" fill="none" stroke="#1a1a1a" stroke-width="0.7"/>
<polygon points="557.52,47.34 560.52,47.34 559.02,49.95" fill="none" stroke="#1a1a1a" stroke-width="0.7"/>
<polygon points="560.17,48.41 563.17,48.41 561.67,51.02" fill="none" stroke="#1a1a1a" stroke-width="0.7"/>
<polygon points="562.83,49.53 565.83,49.53 564.33,52.14" fill="none" stroke="#1a1a1a" stroke-width="0.7"/>
<polygon points="565.49,50.7 568.49,50.7 566.99,53.31" fill="none" stroke="#1a1a1a" stroke-width="0.7"/>
<polygon points="568.15,51.91 571.15,51.91 569.65,54.52" fill="none" stroke="#1a1a1a" stroke-width="0.7"/>
<polygon points="570.81,53.19 573.81,53.19 572.31,55.8" fill="none" stroke="#1a1a1a" stroke-width="0.7"/>
<polygon points="573.47,54.52 576.47,54.52 574.97,57.13" fill="none" stroke="#1a1a1a" stroke-width="0.7"/>
<polygon points="576.13,55.9 579.13,55.9 577.63,58.51" fill="none" stroke="#1a1a1a" stroke-width="0.7"/>
<polygon points="578.79,57.35 581.79,57.35 580.29,59.96" fill="none" stroke="#1a1a1a" stroke-width="0.7"/>
<polygon points="581.44,58.86 584.44,58.86 582.94,61.47" fill="none" stroke="#1a1a1a" stroke-width="0.7"/>
<polygon points="584.1,60.43 587.1,60.43 585.6,63.04" fill="none" stroke="#1a1a1a" stroke-width="0.7"/>
<polygon points="586.76,62.06 589.76,62.06 588.26,64.67" fill="none" stroke="#1a1a1a" stroke-width="0.7"/>
<polygon points="589.42,63.76 592.42,63.76 590.92,66.37" fill="none" stroke="#1a1a1a" stroke-width="0.7"/>
<polygon points="592.08,65.53 595.08,65.53 593.58,68.14" fill="none" stroke="#1a1a1a" stroke-width="0.7"/>
<polygon points="594.74,67.37 597.74,67.37 596.24,69.98" fill="none" stroke="#1a1a1a" stroke-width="0.7"/>
<polygon points="597.4,69.27 600.4,69.27 598.9,71.88" fill="none" stroke="#1a1a1a" stroke-width="0.7"/>
<polygon points="600.06,71.25 603.06,71.25 601.56,73.86" fill="none" stroke="#1a1a1a" stroke-width="0.7"/>
<polygon points="602.71,73.29 605.71,73.29 604.21,75.9" fill="none" stroke="#1a1a1a" stroke-width="0.7"/>
<polygon points="605.37,75.41 608.37,75.41 606.87,78.02" fill="none" stroke="#1a1a1a" stroke-width="0.7"/>
<polygon points="608.03,77.61 611.03,77.61 609.53,80.22" fill="none" stroke="#1a1a1a" stroke-width="0.7"/>
<polygon points="610.69,79.88 613.69,79.88 612.19,82.49" fill="none" stroke="#1a1a1a" stroke-width="0.7"/>
<polygon points="613.35,82.22 616.35,82.22 614.85,84.83" fill="none" stroke="#1a1a1a" stroke-width="0.7"/>
<polygon points="616.01,84.64 619.01,84.64 617.51,87.25" fill="none" stroke="#1a1a1a" stroke-width="0.7"/>
<polygon points="618.67,87.13 621.67,87.13 620.17,89.74" fill="none" stroke="#1a1a1a" stroke-width="0.7"/>
<polygon points="621.33,89.7 624.33,89.7 622.83,92.31" fill="none" stroke="#1a1a1a" stroke-width="0.7"/>
<polygon points="623.98,92.34 626.98,92.34 625.48,94.95" fill="none" stroke="#1a1a1a" stroke-width="0.7"/>
<polygon points="626.64,95.06 629.64,95.06 628.14,97.67" fill="none" stroke="#1a1a1a" stroke-width="0.7"/>
<polygon points="629.3,97.86 632.3,97.86 630.8,100.47" fill="none" stroke="#1a1a1a" stroke-width="0.7"/>
<polygon points="631.96,100.74 634.96,100.74 633.46,103.35" fill="none" stroke="#1a1a1a" stroke-width="0.7"/>
<polygon points="634.62,103.69 637.62,103.69 636.12,106.3" fill="none" stroke="#1a1a1a" stroke-width="0.7"/>
<polygon points="637.28,106.72 640.28,106.72 638.78,109.33" fill="none" stroke="#1a1a1a" stroke-width="0.7"/>
<polygon points="639.94,109.82 642.94,109.82 641.44,112.43" fill="none" stroke="#1a1a1a" stroke-width="0.7"/>
<polygon points="642.6,113 645.6,113 644.1,115.61" fill="none" stroke="#1a1a1a" stroke-width="0.7"/>
<polygon points="645.25,116.25 648.25,116.25 646.75,118.86" fill="none" stroke="#1a1a1a" stroke-width="0.7"/>
<polygon points="647.91,119.58 650.91,119.58 649.41,122.19" fill="none" stroke="#1a1a1a" stroke-width="0.7"/>
<polygon points="650.57,122.98 653.57,122.98 652.07,125.59" fill="none" stroke="#1a1a1a" stroke-width="0.7"/>
<polygon points="653.23,126.45 656.23,126.45 654.73,129.06" fill="none" stroke="#1a1a1a" stroke-width="0.7"/>
<polygon points="655.89,130 658.89,130 657.39,132.61" fill="none" stroke="#1a1a1a" stroke-width="0.7"/>
<polygon points="658.55,133.62 661.55,133.62 660.05,136.23" fill="none" stroke="#1a1a1a" stroke-width="0.7"/>
<polygon points="661.21,137.3 664.21,137.3 662.71,139.91" fill="none" stroke="#1a1a1a" stroke-width="0.7"/>
<polygon points="663.87,141.06 666.87,141.06 665.37,143.67" fill="none" stroke="#1a1a1a" stroke-width="0.7"/>
<polygon points="666.52,144.89 669.52,144.89 668.02,147.5" fill="none" stroke="#1a1a1a" stroke-width="0.7"/>
<polygon points="669.18,148.78 672.18,148.78 670.68,151.39" fill="none" stroke="#1a1a1a" stroke-width="0.7"/>
<polygon points="671.84,152.73 674.84,152.73 673.34,155.34" fill="none" stroke="#1a1a1a" stroke-width="0.7"/>
<polygon points="674.5,156.75 677.5,156.75 676,159.36" fill="none" stroke="#1a1a1a" stroke-width="0.7"/>
<path d="M507.5,30.39 C508.22,30.57 510.4,31.1 511.85,31.45 C513.29,31.8 514.74,32.14 516.19,32.49 C517.64,32.84 519.09,33.19 520.54,33.54 C521.99,33.9 523.44,34.25 524.88,34.6 C526.33,34.96 527.78,35.32 529.23,35.68 C530.68,36.05 532.13,36.42 533.58,36.79 C535.03,37.17 536.47,37.55 537.92,37.94 C539.37,38.33 540.82,38.73 542.27,39.14 C543.72,39.55 545.17,39.96 546.62,40.39 C548.06,40.82 549.51,41.26 550.96,41.71 C552.41,42.16 553.86,42.63 555.31,43.11 C556.76,43.59 558.21,44.08 559.65,44.59 C561.1,45.1 562.55,45.62 564,46.17 C565.45,46.71 566.9,47.27 568.35,47.85 C569.79,48.43 571.24,49.03 572.69,49.65 C574.14,50.28 575.59,50.92 577.04,51.58 C578.49,52.25 579.94,52.93 581.38,53.64 C582.83,54.35 584.28,55.09 585.73,55.85 C587.18,56.61 588.63,57.4 590.08,58.22 C591.53,59.03 592.97,59.87 594.42,60.75 C595.87,61.62 597.32,62.52 598.77,63.46 C600.22,64.39 601.67,65.35 603.12,66.35 C604.56,67.35 606.01,68.38 607.46,69.45 C608.91,70.51 610.36,71.61 611.81,72.75 C613.26,73.89 614.71,75.06 616.15,76.27 C617.6,77.49 619.05,78.74 620.5,80.03 C621.95,81.32 623.4,82.65 624.85,84.02 C626.29,85.4 627.74,86.81 629.19,88.27 C630.64,89.73 632.09,91.23 633.54,92.78 C634.99,94.33 636.44,95.92 637.88,97.56 C639.33,99.21 640.78,100.9 642.23,102.64 C643.68,104.38 645.13,106.16 646.58,108 C648.03,109.84 649.47,111.73 650.92,113.68 C652.37,115.63 653.82,117.62 655.27,119.68 C656.72,121.73 658.17,123.84 659.62,126 C661.06,128.17 662.51,130.39 663.96,132.68 C665.41,134.96 666.86,137.3 668.31,139.7 C669.76,142.1 671.21,144.57 672.65,147.09 C674.1,149.62 676.28,153.57 677,154.86" stroke="#ee2a2a" stroke-width="1.3" fill="none" />
<rect x="507.05" y="28.49" width="2.9" height="2.9" fill="none" stroke="#f45858" stroke-width="0.75"/>
<rect x="509.71" y="29.13" width="2.9" height="2.9" fill="none" stroke="#f45858" stroke-width="0.75"/>
<rect x="512.37" y="29.77" width="2.9" height="2.9" fill="none" stroke="#f45858" stroke-width="0.75"/>
<rect x="515.03" y="30.41" width="2.9" height="2.9" fill="none" stroke="#f45858" stroke-width="0.75"/>
<rect x="517.68" y="31.05" width="2.9" height="2.9" fill="none" stroke="#f45858" stroke-width="0.75"/>
<rect x="520.34" y="31.7" width="2.9" height="2.9" fill="none" stroke="#f45858" stroke-width="0.75"/>
<rect x="523" y="32.35" width="2.9" height="2.9" fill="none" stroke="#f45858" stroke-width="0.75"/>
<rect x="525.66" y="33" width="2.9" height="2.9" fill="none" stroke="#f45858" stroke-width="0.75"/>
<rect x="528.32" y="33.67" width="2.9" height="2.9" fill="none" stroke="#f45858" stroke-width="0.75"/>
<rect x="530.98" y="34.35" width="2.9" height="2.9" fill="none" stroke="#f45858" stroke-width="0.75"/>
<rect x="533.64" y="35.04" width="2.9" height="2.9" fill="none" stroke="#f45858" stroke-width="0.75"/>
<rect x="536.3" y="35.74" width="2.9" height="2.9" fill="none" stroke="#f45858" stroke-width="0.75"/>
<rect x="538.95" y="36.47" width="2.9" height="2.9" fill="none" stroke="#f45858" stroke-width="0.75"/>
<rect x="541.61" y="37.21" width="2.9" height="2.9" fill="none" stroke="#f45858" stroke-width="0.75"/>
<rect x="544.27" y="37.98" width="2.9" height="2.9" fill="none" stroke="#f45858" stroke-width="0.75"/>
<rect x="546.93" y="38.77" width="2.9" height="2.9" fill="none" stroke="#f45858" stroke-width="0.75"/>
<rect x="549.59" y="39.58" width="2.9" height="2.9" fill="none" stroke="#f45858" stroke-width="0.75"/>
<rect x="552.25" y="40.43" width="2.9" height="2.9" fill="none" stroke="#f45858" stroke-width="0.75"/>
<rect x="554.91" y="41.31" width="2.9" height="2.9" fill="none" stroke="#f45858" stroke-width="0.75"/>
<rect x="557.57" y="42.22" width="2.9" height="2.9" fill="none" stroke="#f45858" stroke-width="0.75"/>
<rect x="560.22" y="43.16" width="2.9" height="2.9" fill="none" stroke="#f45858" stroke-width="0.75"/>
<rect x="562.88" y="44.14" width="2.9" height="2.9" fill="none" stroke="#f45858" stroke-width="0.75"/>
<rect x="565.54" y="45.17" width="2.9" height="2.9" fill="none" stroke="#f45858" stroke-width="0.75"/>
<rect x="568.2" y="46.23" width="2.9" height="2.9" fill="none" stroke="#f45858" stroke-width="0.75"/>
<rect x="570.86" y="47.34" width="2.9" height="2.9" fill="none" stroke="#f45858" stroke-width="0.75"/>
<rect x="573.52" y="48.5" width="2.9" height="2.9" fill="none" stroke="#f45858" stroke-width="0.75"/>
<rect x="576.18" y="49.7" width="2.9" height="2.9" fill="none" stroke="#f45858" stroke-width="0.75"/>
<rect x="578.84" y="50.96" width="2.9" height="2.9" fill="none" stroke="#f45858" stroke-width="0.75"/>
<rect x="581.49" y="52.27" width="2.9" height="2.9" fill="none" stroke="#f45858" stroke-width="0.75"/>
<rect x="584.15" y="53.63" width="2.9" height="2.9" fill="none" stroke="#f45858" stroke-width="0.75"/>
<rect x="586.81" y="55.06" width="2.9" height="2.9" fill="none" stroke="#f45858" stroke-width="0.75"/>
<rect x="589.47" y="56.54" width="2.9" height="2.9" fill="none" stroke="#f45858" stroke-width="0.75"/>
<rect x="592.13" y="58.09" width="2.9" height="2.9" fill="none" stroke="#f45858" stroke-width="0.75"/>
<rect x="594.79" y="59.71" width="2.9" height="2.9" fill="none" stroke="#f45858" stroke-width="0.75"/>
<rect x="597.45" y="61.39" width="2.9" height="2.9" fill="none" stroke="#f45858" stroke-width="0.75"/>
<rect x="600.11" y="63.14" width="2.9" height="2.9" fill="none" stroke="#f45858" stroke-width="0.75"/>
<rect x="602.76" y="64.97" width="2.9" height="2.9" fill="none" stroke="#f45858" stroke-width="0.75"/>
<rect x="605.42" y="66.87" width="2.9" height="2.9" fill="none" stroke="#f45858" stroke-width="0.75"/>
<rect x="608.08" y="68.84" width="2.9" height="2.9" fill="none" stroke="#f45858" stroke-width="0.75"/>
<rect x="610.74" y="70.9" width="2.9" height="2.9" fill="none" stroke="#f45858" stroke-width="0.75"/>
<rect x="613.4" y="73.04" width="2.9" height="2.9" fill="none" stroke="#f45858" stroke-width="0.75"/>
<rect x="616.06" y="75.27" width="2.9" height="2.9" fill="none" stroke="#f45858" stroke-width="0.75"/>
<rect x="618.72" y="77.58" width="2.9" height="2.9" fill="none" stroke="#f45858" stroke-width="0.75"/>
<rect x="621.38" y="79.98" width="2.9" height="2.9" fill="none" stroke="#f45858" stroke-width="0.75"/>
<rect x="624.03" y="82.48" width="2.9" height="2.9" fill="none" stroke="#f45858" stroke-width="0.75"/>
<rect x="626.69" y="85.07" width="2.9" height="2.9" fill="none" stroke="#f45858" stroke-width="0.75"/>
<rect x="629.35" y="87.76" width="2.9" height="2.9" fill="none" stroke="#f45858" stroke-width="0.75"/>
<rect x="632.01" y="90.55" width="2.9" height="2.9" fill="none" stroke="#f45858" stroke-width="0.75"/>
<rect x="634.67" y="93.44" width="2.9" height="2.9" fill="none" stroke="#f45858" stroke-width="0.75"/>
<rect x="637.33" y="96.43" width="2.9" height="2.9" fill="none" stroke="#f45858" stroke-width="0.75"/>
<rect x="639.99" y="99.54" width="2.9" height="2.9" fill="none" stroke="#f45858" stroke-width="0.75"/>
<rect x="642.65" y="102.75" width="2.9" height="2.9" fill="none" stroke="#f45858" stroke-width="0.75"/>
<rect x="645.3" y="106.08" width="2.9" height="2.9" fill="none" stroke="#f45858" stroke-width="0.75"/>
<rect x="647.96" y="109.52" width="2.9" height="2.9" fill="none" stroke="#f45858" stroke-width="0.75"/>
<rect x="650.62" y="113.08" width="2.9" height="2.9" fill="none" stroke="#f45858" stroke-width="0.75"/>
<rect x="653.28" y="116.76" width="2.9" height="2.9" fill="none" stroke="#f45858" stroke-width="0.75"/>
<rect x="655.94" y="120.57" width="2.9" height="2.9" fill="none" stroke="#f45858" stroke-width="0.75"/>
<rect x="658.6" y="124.5" width="2.9" height="2.9" fill="none" stroke="#f45858" stroke-width="0.75"/>
<rect x="661.26" y="128.56" width="2.9" height="2.9" fill="none" stroke="#f45858" stroke-width="0.75"/>
<rect x="663.92" y="132.75" width="2.9" height="2.9" fill="none" stroke="#f45858" stroke-width="0.75"/>
<rect x="666.57" y="137.08" width="2.9" height="2.9" fill="none" stroke="#f45858" stroke-width="0.75"/>
<rect x="669.23" y="141.54" width="2.9" height="2.9" fill="none" stroke="#f45858" stroke-width="0.75"/>
<rect x="671.89" y="146.15" width="2.9" height="2.9" fill="none" stroke="#f45858" stroke-width="0.75"/>
<rect x="674.55" y="150.89" width="2.9" height="2.9" fill="none" stroke="#f45858" stroke-width="0.75"/>
<path d="M507.5,31.55 C508.22,31.74 510.4,32.3 511.85,32.67 C513.29,33.04 514.74,33.4 516.19,33.76 C517.64,34.12 519.09,34.48 520.54,34.85 C521.99,35.21 523.44,35.57 524.88,35.94 C526.33,36.31 527.78,36.68 529.23,37.06 C530.68,37.43 532.13,37.81 533.58,38.2 C535.03,38.59 536.47,38.99 537.92,39.39 C539.37,39.8 540.82,40.22 542.27,40.64 C543.72,41.07 545.17,41.51 546.62,41.96 C548.06,42.42 549.51,42.88 550.96,43.37 C552.41,43.85 553.86,44.35 555.31,44.86 C556.76,45.38 558.21,45.91 559.65,46.46 C561.1,47.01 562.55,47.58 564,48.17 C565.45,48.76 566.9,49.37 568.35,50 C569.79,50.64 571.24,51.29 572.69,51.97 C574.14,52.65 575.59,53.36 577.04,54.08 C578.49,54.81 579.94,55.57 581.38,56.35 C582.83,57.13 584.28,57.94 585.73,58.77 C587.18,59.61 588.63,60.47 590.08,61.36 C591.53,62.26 592.97,63.18 594.42,64.13 C595.87,65.09 597.32,66.07 598.77,67.09 C600.22,68.1 601.67,69.15 603.12,70.23 C604.56,71.31 606.01,72.43 607.46,73.57 C608.91,74.72 610.36,75.9 611.81,77.12 C613.26,78.34 614.71,79.59 616.15,80.88 C617.6,82.17 619.05,83.49 620.5,84.85 C621.95,86.21 623.4,87.61 624.85,89.04 C626.29,90.48 627.74,91.95 629.19,93.47 C630.64,94.98 632.09,96.53 633.54,98.12 C634.99,99.71 636.44,101.33 637.88,103 C639.33,104.67 640.78,106.38 642.23,108.13 C643.68,109.88 645.13,111.67 646.58,113.5 C648.03,115.33 649.47,117.2 650.92,119.11 C652.37,121.02 653.82,122.98 655.27,124.97 C656.72,126.97 658.17,129.01 659.62,131.08 C661.06,133.16 662.51,135.29 663.96,137.45 C665.41,139.61 666.86,141.82 668.31,144.07 C669.76,146.32 671.21,148.61 672.65,150.94 C674.1,153.28 676.28,156.89 677,158.08" stroke="#111" stroke-width="1.5" fill="none" />
<rect x="525.3" y="134.7" width="3.2" height="3.2" fill="none" stroke="#f25a5a" stroke-width="0.7"/>
<polygon points="549.1,134.26 553.1,134.26 551.1,137.74" fill="none" stroke="#333" stroke-width="0.6"/>
<line x1="515.6" y1="147.9" x2="538" y2="147.9" stroke="#ee2a2a" stroke-width="1.4" />
<line x1="540.4" y1="147.9" x2="561.9" y2="147.9" stroke="#111" stroke-width="1.4" />
<text x="564" y="139.7" font-size="9.75" text-anchor="start" fill="#000" style="color:#000"  >Experimental data</text>
<text x="564" y="151.8" font-size="9.75" text-anchor="start" fill="#000" style="color:#000"  >Calculated data</text>
<line x1="602.8" y1="84.3" x2="588.85" y2="74.52" stroke="#111" stroke-width="0.9" />
<polygon points="584.4,71.4 591.35,73.34 588.59,77.27" fill="#111"/>
<line x1="639.6" y1="86.8" x2="651.71" y2="96.25" stroke="#111" stroke-width="0.9" />
<polygon points="656,99.6 649.16,97.31 652.12,93.52" fill="#111"/>
<rect x="506.55" y="206.93" width="2.9" height="2.9" fill="none" stroke="#7dbcf4" stroke-width="0.7"/>
<rect x="508.62" y="206.95" width="2.9" height="2.9" fill="none" stroke="#7dbcf4" stroke-width="0.7"/>
<rect x="510.7" y="207.01" width="2.9" height="2.9" fill="none" stroke="#7dbcf4" stroke-width="0.7"/>
<rect x="512.77" y="207.09" width="2.9" height="2.9" fill="none" stroke="#7dbcf4" stroke-width="0.7"/>
<rect x="514.85" y="207.2" width="2.9" height="2.9" fill="none" stroke="#7dbcf4" stroke-width="0.7"/>
<rect x="516.92" y="207.35" width="2.9" height="2.9" fill="none" stroke="#7dbcf4" stroke-width="0.7"/>
<rect x="518.99" y="207.52" width="2.9" height="2.9" fill="none" stroke="#7dbcf4" stroke-width="0.7"/>
<rect x="521.07" y="207.72" width="2.9" height="2.9" fill="none" stroke="#7dbcf4" stroke-width="0.7"/>
<rect x="523.14" y="207.94" width="2.9" height="2.9" fill="none" stroke="#7dbcf4" stroke-width="0.7"/>
<rect x="525.22" y="208.19" width="2.9" height="2.9" fill="none" stroke="#7dbcf4" stroke-width="0.7"/>
<rect x="527.29" y="208.47" width="2.9" height="2.9" fill="none" stroke="#7dbcf4" stroke-width="0.7"/>
<rect x="529.36" y="208.78" width="2.9" height="2.9" fill="none" stroke="#7dbcf4" stroke-width="0.7"/>
<rect x="531.44" y="209.11" width="2.9" height="2.9" fill="none" stroke="#7dbcf4" stroke-width="0.7"/>
<rect x="533.51" y="209.48" width="2.9" height="2.9" fill="none" stroke="#7dbcf4" stroke-width="0.7"/>
<rect x="535.59" y="209.86" width="2.9" height="2.9" fill="none" stroke="#7dbcf4" stroke-width="0.7"/>
<rect x="537.66" y="210.28" width="2.9" height="2.9" fill="none" stroke="#7dbcf4" stroke-width="0.7"/>
<rect x="539.74" y="210.73" width="2.9" height="2.9" fill="none" stroke="#7dbcf4" stroke-width="0.7"/>
<rect x="541.81" y="211.2" width="2.9" height="2.9" fill="none" stroke="#7dbcf4" stroke-width="0.7"/>
<rect x="543.88" y="211.7" width="2.9" height="2.9" fill="none" stroke="#7dbcf4" stroke-width="0.7"/>
<rect x="545.96" y="212.24" width="2.9" height="2.9" fill="none" stroke="#7dbcf4" stroke-width="0.7"/>
<rect x="548.03" y="212.8" width="2.9" height="2.9" fill="none" stroke="#7dbcf4" stroke-width="0.7"/>
<rect x="550.11" y="213.4" width="2.9" height="2.9" fill="none" stroke="#7dbcf4" stroke-width="0.7"/>
<rect x="552.18" y="214.04" width="2.9" height="2.9" fill="none" stroke="#7dbcf4" stroke-width="0.7"/>
<rect x="554.25" y="214.7" width="2.9" height="2.9" fill="none" stroke="#7dbcf4" stroke-width="0.7"/>
<rect x="556.33" y="215.4" width="2.9" height="2.9" fill="none" stroke="#7dbcf4" stroke-width="0.7"/>
<rect x="558.4" y="216.14" width="2.9" height="2.9" fill="none" stroke="#7dbcf4" stroke-width="0.7"/>
<rect x="560.48" y="216.92" width="2.9" height="2.9" fill="none" stroke="#7dbcf4" stroke-width="0.7"/>
<rect x="562.55" y="217.73" width="2.9" height="2.9" fill="none" stroke="#7dbcf4" stroke-width="0.7"/>
<rect x="564.62" y="218.58" width="2.9" height="2.9" fill="none" stroke="#7dbcf4" stroke-width="0.7"/>
<rect x="566.7" y="219.48" width="2.9" height="2.9" fill="none" stroke="#7dbcf4" stroke-width="0.7"/>
<rect x="568.77" y="220.41" width="2.9" height="2.9" fill="none" stroke="#7dbcf4" stroke-width="0.7"/>
<rect x="570.85" y="221.39" width="2.9" height="2.9" fill="none" stroke="#7dbcf4" stroke-width="0.7"/>
<rect x="572.92" y="222.42" width="2.9" height="2.9" fill="none" stroke="#7dbcf4" stroke-width="0.7"/>
<rect x="574.99" y="223.49" width="2.9" height="2.9" fill="none" stroke="#7dbcf4" stroke-width="0.7"/>
<rect x="577.07" y="224.6" width="2.9" height="2.9" fill="none" stroke="#7dbcf4" stroke-width="0.7"/>
<rect x="579.14" y="225.76" width="2.9" height="2.9" fill="none" stroke="#7dbcf4" stroke-width="0.7"/>
<rect x="581.22" y="226.98" width="2.9" height="2.9" fill="none" stroke="#7dbcf4" stroke-width="0.7"/>
<rect x="583.29" y="228.24" width="2.9" height="2.9" fill="none" stroke="#7dbcf4" stroke-width="0.7"/>
<rect x="585.36" y="229.55" width="2.9" height="2.9" fill="none" stroke="#7dbcf4" stroke-width="0.7"/>
<rect x="587.44" y="230.91" width="2.9" height="2.9" fill="none" stroke="#7dbcf4" stroke-width="0.7"/>
<rect x="589.51" y="232.32" width="2.9" height="2.9" fill="none" stroke="#7dbcf4" stroke-width="0.7"/>
<rect x="591.59" y="233.79" width="2.9" height="2.9" fill="none" stroke="#7dbcf4" stroke-width="0.7"/>
<rect x="593.66" y="235.31" width="2.9" height="2.9" fill="none" stroke="#7dbcf4" stroke-width="0.7"/>
<rect x="595.74" y="236.88" width="2.9" height="2.9" fill="none" stroke="#7dbcf4" stroke-width="0.7"/>
<rect x="597.81" y="238.51" width="2.9" height="2.9" fill="none" stroke="#7dbcf4" stroke-width="0.7"/>
<rect x="599.88" y="240.19" width="2.9" height="2.9" fill="none" stroke="#7dbcf4" stroke-width="0.7"/>
<rect x="601.96" y="241.92" width="2.9" height="2.9" fill="none" stroke="#7dbcf4" stroke-width="0.7"/>
<rect x="604.03" y="243.71" width="2.9" height="2.9" fill="none" stroke="#7dbcf4" stroke-width="0.7"/>
<rect x="606.11" y="245.56" width="2.9" height="2.9" fill="none" stroke="#7dbcf4" stroke-width="0.7"/>
<rect x="608.18" y="247.46" width="2.9" height="2.9" fill="none" stroke="#7dbcf4" stroke-width="0.7"/>
<rect x="610.25" y="249.41" width="2.9" height="2.9" fill="none" stroke="#7dbcf4" stroke-width="0.7"/>
<rect x="612.33" y="251.42" width="2.9" height="2.9" fill="none" stroke="#7dbcf4" stroke-width="0.7"/>
<rect x="614.4" y="253.48" width="2.9" height="2.9" fill="none" stroke="#7dbcf4" stroke-width="0.7"/>
<rect x="616.48" y="255.6" width="2.9" height="2.9" fill="none" stroke="#7dbcf4" stroke-width="0.7"/>
<rect x="618.55" y="257.77" width="2.9" height="2.9" fill="none" stroke="#7dbcf4" stroke-width="0.7"/>
<rect x="620.62" y="259.98" width="2.9" height="2.9" fill="none" stroke="#7dbcf4" stroke-width="0.7"/>
<rect x="622.7" y="262.25" width="2.9" height="2.9" fill="none" stroke="#7dbcf4" stroke-width="0.7"/>
<rect x="624.77" y="264.56" width="2.9" height="2.9" fill="none" stroke="#7dbcf4" stroke-width="0.7"/>
<rect x="626.85" y="266.93" width="2.9" height="2.9" fill="none" stroke="#7dbcf4" stroke-width="0.7"/>
<rect x="628.92" y="269.33" width="2.9" height="2.9" fill="none" stroke="#7dbcf4" stroke-width="0.7"/>
<rect x="630.99" y="271.78" width="2.9" height="2.9" fill="none" stroke="#7dbcf4" stroke-width="0.7"/>
<rect x="633.07" y="274.27" width="2.9" height="2.9" fill="none" stroke="#7dbcf4" stroke-width="0.7"/>
<rect x="635.14" y="276.8" width="2.9" height="2.9" fill="none" stroke="#7dbcf4" stroke-width="0.7"/>
<rect x="637.22" y="279.37" width="2.9" height="2.9" fill="none" stroke="#7dbcf4" stroke-width="0.7"/>
<rect x="639.29" y="281.95" width="2.9" height="2.9" fill="none" stroke="#7dbcf4" stroke-width="0.7"/>
<rect x="641.36" y="284.8" width="2.9" height="2.9" fill="none" stroke="#7dbcf4" stroke-width="0.7"/>
<rect x="643.44" y="287.17" width="2.9" height="2.9" fill="none" stroke="#7dbcf4" stroke-width="0.7"/>
<rect x="645.51" y="290.43" width="2.9" height="2.9" fill="none" stroke="#7dbcf4" stroke-width="0.7"/>
<rect x="647.59" y="292.47" width="2.9" height="2.9" fill="none" stroke="#7dbcf4" stroke-width="0.7"/>
<rect x="649.66" y="296.14" width="2.9" height="2.9" fill="none" stroke="#7dbcf4" stroke-width="0.7"/>
<rect x="651.74" y="297.84" width="2.9" height="2.9" fill="none" stroke="#7dbcf4" stroke-width="0.7"/>
<rect x="653.81" y="301.89" width="2.9" height="2.9" fill="none" stroke="#7dbcf4" stroke-width="0.7"/>
<rect x="655.88" y="303.23" width="2.9" height="2.9" fill="none" stroke="#7dbcf4" stroke-width="0.7"/>
<rect x="657.96" y="307.65" width="2.9" height="2.9" fill="none" stroke="#7dbcf4" stroke-width="0.7"/>
<rect x="660.03" y="308.61" width="2.9" height="2.9" fill="none" stroke="#7dbcf4" stroke-width="0.7"/>
<rect x="662.11" y="313.38" width="2.9" height="2.9" fill="none" stroke="#7dbcf4" stroke-width="0.7"/>
<rect x="664.18" y="313.94" width="2.9" height="2.9" fill="none" stroke="#7dbcf4" stroke-width="0.7"/>
<rect x="666.25" y="319.02" width="2.9" height="2.9" fill="none" stroke="#7dbcf4" stroke-width="0.7"/>
<rect x="668.33" y="319.15" width="2.9" height="2.9" fill="none" stroke="#7dbcf4" stroke-width="0.7"/>
<rect x="670.4" y="324.53" width="2.9" height="2.9" fill="none" stroke="#7dbcf4" stroke-width="0.7"/>
<rect x="672.48" y="324.2" width="2.9" height="2.9" fill="none" stroke="#7dbcf4" stroke-width="0.7"/>
<rect x="674.55" y="329.84" width="2.9" height="2.9" fill="none" stroke="#7dbcf4" stroke-width="0.7"/>
<polygon points="505.95,210.91 509.05,210.91 507.5,213.61" fill="none" stroke="#4fb85a" stroke-width="0.7"/>
<polygon points="508.08,211.37 511.18,211.37 509.63,214.07" fill="none" stroke="#4fb85a" stroke-width="0.7"/>
<polygon points="510.2,211.87 513.3,211.87 511.75,214.57" fill="none" stroke="#4fb85a" stroke-width="0.7"/>
<polygon points="512.33,212.41 515.43,212.41 513.88,215.11" fill="none" stroke="#4fb85a" stroke-width="0.7"/>
<polygon points="514.46,212.99 517.56,212.99 516.01,215.69" fill="none" stroke="#4fb85a" stroke-width="0.7"/>
<polygon points="516.58,213.61 519.68,213.61 518.13,216.3" fill="none" stroke="#4fb85a" stroke-width="0.7"/>
<polygon points="518.71,214.25 521.81,214.25 520.26,216.95" fill="none" stroke="#4fb85a" stroke-width="0.7"/>
<polygon points="520.84,214.93 523.94,214.93 522.39,217.62" fill="none" stroke="#4fb85a" stroke-width="0.7"/>
<polygon points="522.96,215.63 526.06,215.63 524.51,218.33" fill="none" stroke="#4fb85a" stroke-width="0.7"/>
<polygon points="525.09,216.36 528.19,216.36 526.64,219.06" fill="none" stroke="#4fb85a" stroke-width="0.7"/>
<polygon points="527.22,217.12 530.32,217.12 528.77,219.82" fill="none" stroke="#4fb85a" stroke-width="0.7"/>
<polygon points="529.34,217.91 532.44,217.91 530.89,220.61" fill="none" stroke="#4fb85a" stroke-width="0.7"/>
<polygon points="531.47,218.72 534.57,218.72 533.02,221.42" fill="none" stroke="#4fb85a" stroke-width="0.7"/>
<polygon points="533.6,219.56 536.7,219.56 535.15,222.26" fill="none" stroke="#4fb85a" stroke-width="0.7"/>
<polygon points="535.72,220.42 538.82,220.42 537.27,223.12" fill="none" stroke="#4fb85a" stroke-width="0.7"/>
<polygon points="537.85,221.31 540.95,221.31 539.4,224.01" fill="none" stroke="#4fb85a" stroke-width="0.7"/>
<polygon points="539.98,222.23 543.08,222.23 541.53,224.92" fill="none" stroke="#4fb85a" stroke-width="0.7"/>
<polygon points="542.1,223.17 545.2,223.17 543.65,225.86" fill="none" stroke="#4fb85a" stroke-width="0.7"/>
<polygon points="544.23,224.13 547.33,224.13 545.78,226.83" fill="none" stroke="#4fb85a" stroke-width="0.7"/>
<polygon points="546.36,225.13 549.46,225.13 547.91,227.82" fill="none" stroke="#4fb85a" stroke-width="0.7"/>
<polygon points="548.48,226.15 551.58,226.15 550.03,228.85" fill="none" stroke="#4fb85a" stroke-width="0.7"/>
<polygon points="550.61,227.2 553.71,227.2 552.16,229.9" fill="none" stroke="#4fb85a" stroke-width="0.7"/>
<polygon points="552.73,228.28 555.83,228.28 554.28,230.98" fill="none" stroke="#4fb85a" stroke-width="0.7"/>
<polygon points="554.86,229.39 557.96,229.39 556.41,232.09" fill="none" stroke="#4fb85a" stroke-width="0.7"/>
<polygon points="556.99,230.53 560.09,230.53 558.54,233.23" fill="none" stroke="#4fb85a" stroke-width="0.7"/>
<polygon points="559.11,231.71 562.21,231.71 560.66,234.41" fill="none" stroke="#4fb85a" stroke-width="0.7"/>
<polygon points="561.24,232.92 564.34,232.92 562.79,235.62" fill="none" stroke="#4fb85a" stroke-width="0.7"/>
<polygon points="563.37,234.16 566.47,234.16 564.92,236.86" fill="none" stroke="#4fb85a" stroke-width="0.7"/>
<polygon points="565.49,235.45 568.59,235.45 567.04,238.14" fill="none" stroke="#4fb85a" stroke-width="0.7"/>
<polygon points="567.62,236.77 570.72,236.77 569.17,239.46" fill="none" stroke="#4fb85a" stroke-width="0.7"/>
<polygon points="569.75,238.12 572.85,238.12 571.3,240.82" fill="none" stroke="#4fb85a" stroke-width="0.7"/>
<polygon points="571.87,239.52 574.97,239.52 573.42,242.22" fill="none" stroke="#4fb85a" stroke-width="0.7"/>
<polygon points="574,240.96 577.1,240.96 575.55,243.66" fill="none" stroke="#4fb85a" stroke-width="0.7"/>
<polygon points="576.13,242.44 579.23,242.44 577.68,245.14" fill="none" stroke="#4fb85a" stroke-width="0.7"/>
<polygon points="578.25,243.97 581.35,243.97 579.8,246.67" fill="none" stroke="#4fb85a" stroke-width="0.7"/>
<polygon points="580.38,245.54 583.48,245.54 581.93,248.24" fill="none" stroke="#4fb85a" stroke-width="0.7"/>
<polygon points="582.51,247.15 585.61,247.15 584.06,249.85" fill="none" stroke="#4fb85a" stroke-width="0.7"/>
<polygon points="584.63,248.81 587.73,248.81 586.18,251.51" fill="none" stroke="#4fb85a" stroke-width="0.7"/>
<polygon points="586.76,250.52 589.86,250.52 588.31,253.22" fill="none" stroke="#4fb85a" stroke-width="0.7"/>
<polygon points="588.89,252.28 591.99,252.28 590.44,254.97" fill="none" stroke="#4fb85a" stroke-width="0.7"/>
<polygon points="591.01,254.08 594.11,254.08 592.56,256.78" fill="none" stroke="#4fb85a" stroke-width="0.7"/>
<polygon points="593.14,255.93 596.24,255.93 594.69,258.63" fill="none" stroke="#4fb85a" stroke-width="0.7"/>
<polygon points="595.27,257.83 598.37,257.83 596.82,260.52" fill="none" stroke="#4fb85a" stroke-width="0.7"/>
<polygon points="597.39,259.77 600.49,259.77 598.94,262.47" fill="none" stroke="#4fb85a" stroke-width="0.7"/>
<polygon points="599.52,261.76 602.62,261.76 601.07,264.46" fill="none" stroke="#4fb85a" stroke-width="0.7"/>
<polygon points="601.65,263.8 604.75,263.8 603.2,266.5" fill="none" stroke="#4fb85a" stroke-width="0.7"/>
<polygon points="603.77,265.89 606.87,265.89 605.32,268.59" fill="none" stroke="#4fb85a" stroke-width="0.7"/>
<polygon points="605.9,268.02 609,268.02 607.45,270.72" fill="none" stroke="#4fb85a" stroke-width="0.7"/>
<polygon points="608.03,270.2 611.13,270.2 609.58,272.9" fill="none" stroke="#4fb85a" stroke-width="0.7"/>
<polygon points="610.15,272.42 613.25,272.42 611.7,275.12" fill="none" stroke="#4fb85a" stroke-width="0.7"/>
<polygon points="612.28,274.68 615.38,274.68 613.83,277.38" fill="none" stroke="#4fb85a" stroke-width="0.7"/>
<polygon points="614.41,276.98 617.51,276.98 615.96,279.68" fill="none" stroke="#4fb85a" stroke-width="0.7"/>
<polygon points="616.53,279.32 619.63,279.32 618.08,282.02" fill="none" stroke="#4fb85a" stroke-width="0.7"/>
<polygon points="618.66,281.69 621.76,281.69 620.21,284.39" fill="none" stroke="#4fb85a" stroke-width="0.7"/>
<polygon points="620.79,284.1 623.89,284.1 622.34,286.79" fill="none" stroke="#4fb85a" stroke-width="0.7"/>
<polygon points="622.91,286.53 626.01,286.53 624.46,289.23" fill="none" stroke="#4fb85a" stroke-width="0.7"/>
<polygon points="625.04,288.99 628.14,288.99 626.59,291.69" fill="none" stroke="#4fb85a" stroke-width="0.7"/>
<polygon points="627.17,291.47 630.27,291.47 628.72,294.17" fill="none" stroke="#4fb85a" stroke-width="0.7"/>
<polygon points="629.29,293.97 632.39,293.97 630.84,296.67" fill="none" stroke="#4fb85a" stroke-width="0.7"/>
<polygon points="631.42,296.48 634.52,296.48 632.97,299.18" fill="none" stroke="#4fb85a" stroke-width="0.7"/>
<polygon points="633.54,299 636.64,299 635.09,301.7" fill="none" stroke="#4fb85a" stroke-width="0.7"/>
<polygon points="635.67,301.52 638.77,301.52 637.22,304.22" fill="none" stroke="#4fb85a" stroke-width="0.7"/>
<polygon points="637.8,304.04 640.9,304.04 639.35,306.74" fill="none" stroke="#4fb85a" stroke-width="0.7"/>
<polygon points="639.92,306.55 643.02,306.55 641.47,309.25" fill="none" stroke="#4fb85a" stroke-width="0.7"/>
<polygon points="642.05,309.05 645.15,309.05 643.6,311.75" fill="none" stroke="#4fb85a" stroke-width="0.7"/>
<polygon points="644.18,311.52 647.28,311.52 645.73,314.22" fill="none" stroke="#4fb85a" stroke-width="0.7"/>
<polygon points="646.3,313.96 649.4,313.96 647.85,316.66" fill="none" stroke="#4fb85a" stroke-width="0.7"/>
<polygon points="648.43,316.25 651.53,316.25 649.98,318.94" fill="none" stroke="#4fb85a" stroke-width="0.7"/>
<polygon points="650.56,318.07 653.66,318.07 652.11,320.77" fill="none" stroke="#4fb85a" stroke-width="0.7"/>
<polygon points="652.68,319.84 655.78,319.84 654.23,322.54" fill="none" stroke="#4fb85a" stroke-width="0.7"/>
<polygon points="654.81,321.55 657.91,321.55 656.36,324.25" fill="none" stroke="#4fb85a" stroke-width="0.7"/>
<polygon points="656.94,323.18 660.04,323.18 658.49,325.88" fill="none" stroke="#4fb85a" stroke-width="0.7"/>
<polygon points="659.06,324.72 662.16,324.72 660.61,327.42" fill="none" stroke="#4fb85a" stroke-width="0.7"/>
<polygon points="661.19,326.17 664.29,326.17 662.74,328.87" fill="none" stroke="#4fb85a" stroke-width="0.7"/>
<polygon points="663.32,327.51 666.42,327.51 664.87,330.21" fill="none" stroke="#4fb85a" stroke-width="0.7"/>
<polygon points="665.44,328.73 668.54,328.73 666.99,331.43" fill="none" stroke="#4fb85a" stroke-width="0.7"/>
<polygon points="667.57,329.82 670.67,329.82 669.12,332.52" fill="none" stroke="#4fb85a" stroke-width="0.7"/>
<polygon points="669.7,330.76 672.8,330.76 671.25,333.46" fill="none" stroke="#4fb85a" stroke-width="0.7"/>
<polygon points="671.82,331.54 674.92,331.54 673.37,334.24" fill="none" stroke="#4fb85a" stroke-width="0.7"/>
<polygon points="673.95,332.15 677.05,332.15 675.5,334.85" fill="none" stroke="#4fb85a" stroke-width="0.7"/>
<path d="M507,209.38 C507.73,209.39 509.91,209.39 511.36,209.43 C512.81,209.47 514.26,209.53 515.72,209.62 C517.17,209.7 518.62,209.81 520.08,209.93 C521.53,210.06 522.98,210.21 524.44,210.37 C525.89,210.54 527.34,210.73 528.79,210.93 C530.25,211.14 531.7,211.36 533.15,211.61 C534.61,211.85 536.06,212.12 537.51,212.41 C538.97,212.69 540.42,213 541.87,213.33 C543.32,213.66 544.78,214.01 546.23,214.38 C547.68,214.75 549.14,215.15 550.59,215.57 C552.04,215.99 553.5,216.43 554.95,216.9 C556.4,217.38 557.85,217.87 559.31,218.39 C560.76,218.92 562.21,219.47 563.67,220.05 C565.12,220.63 566.57,221.23 568.03,221.87 C569.48,222.51 570.93,223.18 572.38,223.89 C573.84,224.59 575.29,225.32 576.74,226.09 C578.2,226.86 579.65,227.67 581.1,228.51 C582.56,229.35 584.01,230.22 585.46,231.14 C586.91,232.05 588.37,233 589.82,233.99 C591.27,234.98 592.73,236 594.18,237.07 C595.63,238.13 597.09,239.24 598.54,240.39 C599.99,241.53 601.44,242.72 602.9,243.94 C604.35,245.17 605.8,246.43 607.26,247.74 C608.71,249.05 610.16,250.39 611.62,251.78 C613.07,253.17 614.52,254.59 615.97,256.06 C617.43,257.52 618.88,259.03 620.33,260.57 C621.79,262.11 623.24,263.69 624.69,265.3 C626.15,266.92 627.6,268.57 629.05,270.25 C630.5,271.93 631.96,273.64 633.41,275.39 C634.86,277.13 636.32,278.91 637.77,280.7 C639.22,282.5 640.68,284.33 642.13,286.17 C643.58,288.01 645.03,289.88 646.49,291.76 C647.94,293.64 649.39,295.54 650.85,297.44 C652.3,299.34 653.75,301.26 655.21,303.17 C656.66,305.08 658.11,307 659.56,308.91 C661.02,310.81 662.47,312.72 663.92,314.6 C665.38,316.49 666.83,318.36 668.28,320.21 C669.74,322.05 671.19,323.87 672.64,325.65 C674.09,327.43 676.27,330 677,330.87" stroke="#4a8fe0" stroke-width="1.3" fill="none" />
<path d="M507,210.06 C507.73,210.22 509.91,210.66 511.36,211.01 C512.81,211.35 514.26,211.73 515.72,212.12 C517.17,212.52 518.62,212.94 520.08,213.39 C521.53,213.83 522.98,214.3 524.44,214.79 C525.89,215.27 527.34,215.78 528.79,216.3 C530.25,216.83 531.7,217.37 533.15,217.93 C534.61,218.49 536.06,219.07 537.51,219.66 C538.97,220.26 540.42,220.87 541.87,221.51 C543.32,222.14 544.78,222.79 546.23,223.46 C547.68,224.13 549.14,224.82 550.59,225.53 C552.04,226.23 553.5,226.96 554.95,227.71 C556.4,228.46 557.85,229.23 559.31,230.03 C560.76,230.82 562.21,231.64 563.67,232.49 C565.12,233.33 566.57,234.2 568.03,235.09 C569.48,235.99 570.93,236.9 572.38,237.85 C573.84,238.8 575.29,239.78 576.74,240.79 C578.2,241.8 579.65,242.83 581.1,243.9 C582.56,244.97 584.01,246.07 585.46,247.2 C586.91,248.34 588.37,249.5 589.82,250.7 C591.27,251.9 592.73,253.13 594.18,254.39 C595.63,255.66 597.09,256.96 598.54,258.29 C599.99,259.62 601.44,260.98 602.9,262.38 C604.35,263.78 605.8,265.21 607.26,266.67 C608.71,268.13 610.16,269.63 611.62,271.15 C613.07,272.67 614.52,274.23 615.97,275.81 C617.43,277.38 618.88,278.99 620.33,280.62 C621.79,282.25 623.24,283.9 624.69,285.57 C626.15,287.24 627.6,288.93 629.05,290.63 C630.5,292.33 631.96,294.05 633.41,295.76 C634.86,297.48 636.32,299.21 637.77,300.93 C639.22,302.65 640.68,304.38 642.13,306.08 C643.58,307.79 645.03,309.5 646.49,311.17 C647.94,312.84 649.39,314.51 650.85,316.12 C652.3,317.74 653.75,319.34 655.21,320.88 C656.66,322.41 658.11,323.92 659.56,325.35 C661.02,326.77 662.47,328.16 663.92,329.44 C665.38,330.73 666.83,331.96 668.28,333.07 C669.74,334.19 671.19,335.22 672.64,336.12 C674.09,337.02 676.27,338.08 677,338.47" stroke="#3ed63e" stroke-width="1.3" fill="none" />
<rect x="518.8" y="311.4" width="3.2" height="3.2" fill="none" stroke="#7dbcf4" stroke-width="0.7"/>
<polygon points="543.8,311.05 547.6,311.05 545.7,314.35" fill="none" stroke="#5cc065" stroke-width="0.7"/>
<line x1="509.5" y1="325.3" x2="532.1" y2="325.3" stroke="#4a90e2" stroke-width="1.4" />
<line x1="534" y1="325.3" x2="556.4" y2="325.3" stroke="#3ed63e" stroke-width="1.4" />
<text x="559" y="317.3" font-size="9.6" text-anchor="start" fill="#000" style="color:#000"  >Experimental data</text>
<text x="559" y="328.8" font-size="9.6" text-anchor="start" fill="#000" style="color:#000"  >Calculated data</text>
<line x1="592.6" y1="268.8" x2="578.94" y2="256.45" stroke="#111" stroke-width="0.9" />
<polygon points="574.9,252.8 581.55,255.58 578.34,259.14" fill="#111"/>
<line x1="638" y1="264.3" x2="648.95" y2="276.37" stroke="#111" stroke-width="0.9" />
<polygon points="652.6,280.4 646.25,276.97 649.81,273.75" fill="#111"/>
</svg>
</body></html>
